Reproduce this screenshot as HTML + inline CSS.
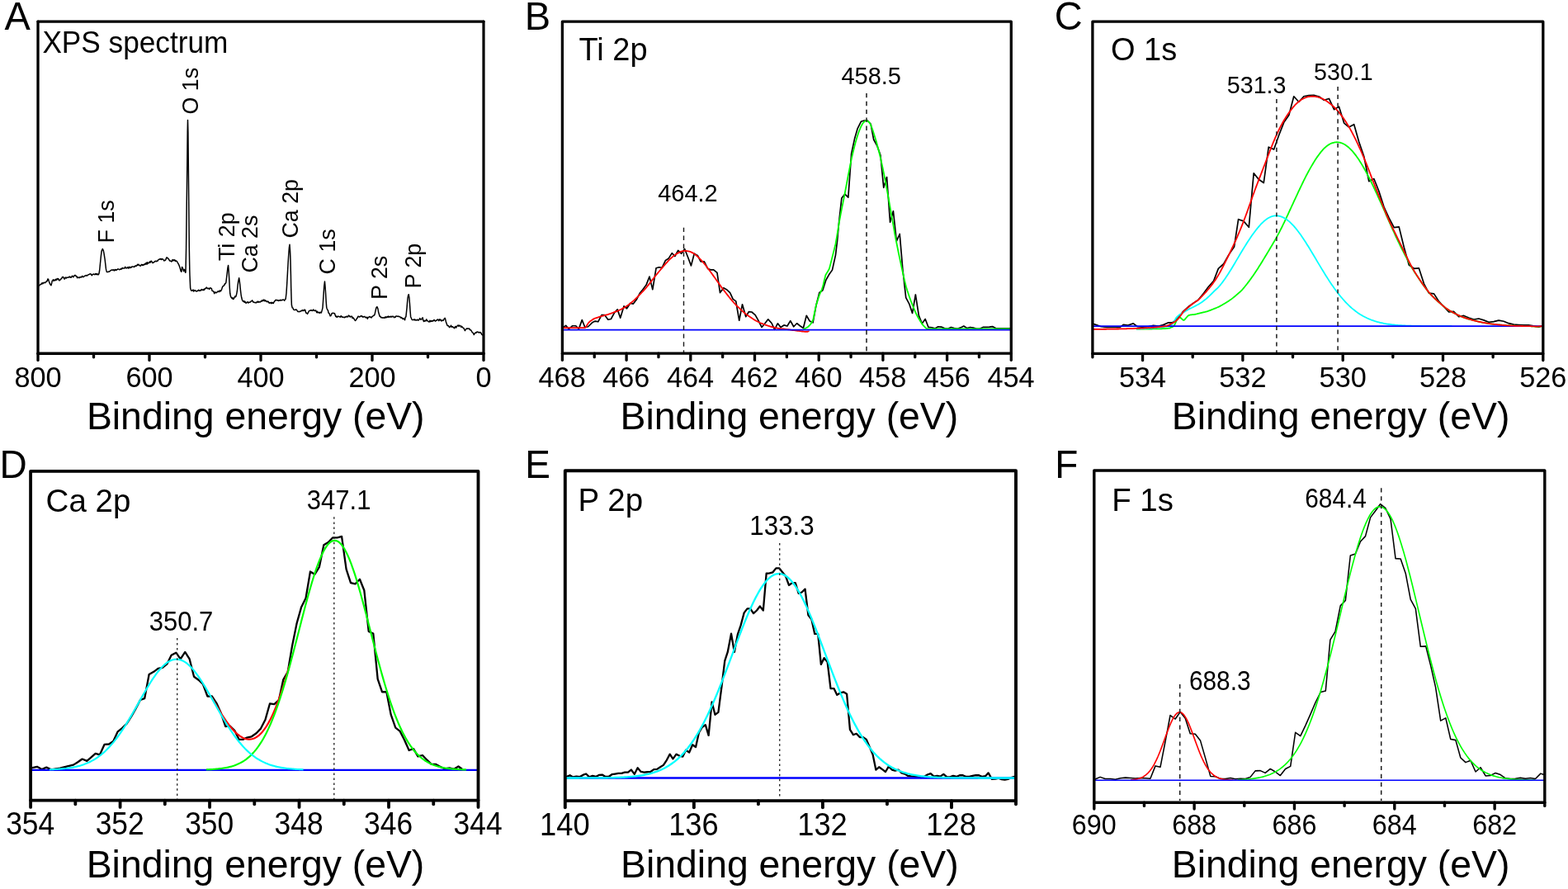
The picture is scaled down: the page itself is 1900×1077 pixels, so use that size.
<!DOCTYPE html>
<html lang="en"><head><meta charset="utf-8"><title>XPS spectra</title>
<style>html,body{margin:0;padding:0;background:#fff;overflow:hidden}svg{display:block}text{font-family:'Liberation Sans', sans-serif;fill:#000}</style>
</head><body>
<svg width="1900" height="1077" viewBox="0 0 1900 1077">
<rect width="1900" height="1077" fill="#fff"/>
<g id="panelA">
<path d="M46.4 347.66 L47.07 345.94 L47.75 345.67 L48.42 345.34 L49.1 344.29 L49.77 344.37 L50.45 344.01 L51.12 342.64 L51.8 343.75 L52.47 343.11 L53.15 342.31 L53.82 342.44 L54.5 342.63 L55.17 341.93 L55.85 341.66 L56.52 340.43 L57.2 340.56 L57.87 337.96 L58.55 338.23 L59.22 340.46 L59.9 342.39 L60.57 344.01 L61.25 344.98 L61.92 345.67 L62.6 343.37 L63.27 340.16 L63.95 339.95 L64.62 338.69 L65.3 340.3 L65.97 339.3 L66.65 338.96 L67.32 339.78 L68 338.12 L68.67 339.13 L69.35 337.48 L70.02 338.02 L70.7 337.62 L71.37 339.4 L72.05 339.88 L72.72 338.98 L73.4 338.88 L74.07 337.58 L74.75 337.25 L75.42 335.78 L76.1 335.41 L76.77 335.67 L77.45 337.19 L78.12 338.09 L78.8 336.69 L79.47 335.94 L80.15 337.13 L80.82 336.21 L81.5 336.13 L82.17 336.22 L82.85 335.97 L83.52 335.77 L84.2 335.05 L84.87 336.02 L85.55 335.59 L86.22 336.16 L86.9 335.16 L87.57 334.18 L88.25 335.04 L88.92 335.78 L89.6 334.36 L90.27 333.81 L90.95 333.37 L91.62 333.74 L92.3 334.7 L92.97 334.71 L93.65 336.66 L94.32 335.87 L95 335.99 L95.67 336.62 L96.35 336.55 L97.02 335.52 L97.7 335.75 L98.37 335.9 L99.05 335.33 L99.72 334.38 L100.4 335.55 L101.07 335.51 L101.75 335.08 L102.42 334.18 L103.1 334.28 L103.77 333.75 L104.45 333.6 L105.12 334.13 L105.8 333.9 L106.47 333.06 L107.15 332.73 L107.82 332.62 L108.5 332.06 L109.17 331.98 L109.85 331.84 L110.52 332.35 L111.2 333.77 L111.87 333 L112.55 332.34 L113.22 332.27 L113.9 332.05 L114.57 332.63 L115.25 332.54 L115.92 331.43 L116.6 332.39 L117.27 331.73 L117.95 332.76 L118.62 332 L119.3 332.79 L119.97 331.42 L120.65 327.5 L121.32 320.75 L121.71 316.89 L122.42 309.79 L123.13 304.11 L124.27 301.55 L125.26 303.39 L125.97 306.95 L127.11 314.05 L127.82 320.45 L128.39 325.42 L128.75 327.4 L129.42 329.55 L130.1 329.41 L130.77 329.61 L131.45 329.18 L132.12 328.84 L132.8 328.91 L133.47 328.26 L134.15 327.5 L134.82 327.37 L135.5 327.01 L136.17 327.34 L136.85 326.91 L137.52 326.76 L138.2 327.98 L138.87 327 L139.55 326.45 L140.22 327.5 L140.9 326.66 L141.57 327.09 L142.25 326.29 L142.92 326 L143.6 326 L144.27 326.47 L144.95 326.67 L145.62 326.2 L146.3 326.23 L146.97 325.27 L147.65 325.85 L148.32 324.52 L149 325 L149.67 325.08 L150.35 324.9 L151.02 324.96 L151.7 323.23 L152.37 324.57 L153.05 324.88 L153.72 324.82 L154.4 323.7 L155.07 324.37 L155.75 325.1 L156.42 323.19 L157.1 324.2 L157.77 324.49 L158.45 323.42 L159.12 324.06 L159.8 323.06 L160.47 323.1 L161.15 323 L161.82 323.45 L162.5 323.09 L163.17 323.33 L163.85 321.95 L164.52 322.06 L165.2 322.32 L165.87 321.77 L166.55 320.39 L167.22 321.15 L167.9 320.19 L168.57 321.14 L169.25 321.56 L169.92 322.3 L170.6 321.89 L171.27 320.61 L171.95 320.57 L172.62 321.42 L173.3 320.57 L173.97 321.1 L174.65 320.42 L175.32 319.65 L176 320.46 L176.67 319.19 L177.35 318.24 L178.02 320.23 L178.7 317.77 L179.37 318.91 L180.05 318.84 L180.72 318.17 L181.4 316.93 L182.07 318.17 L182.75 316.49 L183.42 316.21 L184.1 317.27 L184.77 318.58 L185.45 318.23 L186.12 318.17 L186.8 317.15 L187.47 316.96 L188.15 316.18 L188.82 316.46 L189.5 316.79 L190.17 316.13 L190.85 316.26 L191.52 315.09 L192.2 314.5 L192.87 314.31 L193.55 313.86 L194.22 313.98 L194.9 313.44 L195.57 314.5 L196.25 313.63 L196.92 314.07 L197.6 314.1 L198.27 315.15 L198.95 315.99 L199.62 315.26 L200.3 315.5 L200.97 314.28 L201.65 312.2 L202.32 311.8 L203 312.96 L203.67 312.94 L204.35 313.78 L205.02 314.97 L205.7 315.97 L206.37 316.05 L207.05 316.29 L207.72 317.01 L208.4 316.11 L209.07 314.46 L209.75 315.85 L210.42 314.82 L211.1 315.46 L211.77 314.74 L212.45 316.43 L213.12 315.74 L213.8 316.56 L214.47 316.52 L215.15 318.05 L215.82 319.03 L216.5 320.29 L217.17 321.91 L217.85 323.87 L218.52 326.15 L219.2 328.45 L219.87 329.28 L220.55 323.43 L221.22 324.16 L221.9 326.25 L222.57 328.62 L223.25 326.56 L223.92 327.23 L224.6 330.16 L225 330 L225.6 300 L226.2 250 L226.8 200 L227.2 160 L227.5 145.5 L227.9 160 L228.3 200 L228.8 250 L229.3 300 L229.8 327 L230 333.66 L230.67 349.07 L231.35 351.35 L232.02 352.28 L232.7 351.66 L233.37 351.93 L234.05 351.03 L234.72 352.93 L235.4 352.29 L236.07 351.62 L236.75 352 L237.42 352.7 L238.1 353.07 L238.77 352.42 L239.45 352.58 L240.12 351.58 L240.8 351.31 L241.47 352.4 L242.15 352.02 L242.82 351.53 L243.5 352.04 L244.17 350.61 L244.85 350.71 L245.52 351.34 L246.2 351.62 L246.87 350.44 L247.55 351.18 L248.22 349.58 L248.9 349.76 L249.57 349.14 L250.25 348.03 L250.92 349.16 L251.6 349.7 L252.27 349.28 L252.95 349.49 L253.62 350.35 L254.3 348.89 L254.97 348.76 L255.65 349.22 L256.32 349.51 L257 352.12 L257.67 352.61 L258.35 352.78 L259.02 353.55 L259.7 355.63 L260.37 353.89 L261.05 353.97 L261.72 354.7 L262.4 354.57 L263.07 354.03 L263.75 353.09 L264.42 352.8 L265.1 353.63 L265.77 353.14 L266.45 351.88 L267.12 352.95 L267.8 352.22 L268.47 351.12 L269.15 348.84 L269.82 347.03 L270.5 346.86 L271.17 346.09 L271.85 345.37 L272.52 343.63 L273.2 343.81 L273.87 342.25 L275.18 331.11 L275.89 324.71 L276.61 321.44 L277.03 326.84 L277.6 335.37 L278.17 346.74 L278.74 355.26 L279.45 358.82 L279.95 360.05 L280.62 360.89 L281.3 361.72 L281.97 360.54 L282.65 362.4 L283.32 361.91 L284 360.44 L284.67 358.97 L285.35 359.78 L286.02 358.79 L286.7 356.09 L287.37 352.72 L287.97 346.74 L288.68 341.05 L289.68 336.79 L290.25 340.34 L290.82 345.32 L291.53 352.42 L292.1 357.01 L292.77 360.8 L293.45 363.17 L294.12 364.74 L294.8 364.99 L295.47 364.51 L296.15 366.32 L296.82 365.25 L297.5 366.33 L298.17 367.36 L298.85 366.46 L299.52 365.91 L300.2 365.79 L300.87 367.06 L301.55 366.22 L302.22 366.34 L302.9 366.29 L303.57 365.48 L304.25 365.07 L304.92 364.87 L305.6 363.9 L306.27 364.96 L306.95 365.96 L307.62 366.06 L308.3 366.51 L308.97 366.36 L309.65 366.65 L310.32 366.97 L311 365.86 L311.67 366 L312.35 365.08 L313.02 366.31 L313.7 365.6 L314.37 365.66 L315.05 366.04 L315.72 365.6 L316.4 364.78 L317.07 365.05 L317.75 363.64 L318.42 364.48 L319.1 364.12 L319.77 362.96 L320.45 364.67 L321.12 363.78 L321.8 364.77 L322.47 364.38 L323.15 365.39 L323.82 365.79 L324.5 365.04 L325.17 365.46 L325.85 366.81 L326.52 367.21 L327.2 366.48 L327.87 366.7 L328.55 367.67 L329.22 366.24 L329.9 367.27 L330.57 366.74 L331.25 367.53 L331.92 366.1 L332.6 364.88 L333.27 364.53 L333.95 363.24 L334.62 363.84 L335.3 363.56 L335.97 363.82 L336.65 363.64 L337.32 364.44 L338 363.79 L338.67 364.06 L339.35 363.97 L340.02 363.19 L340.7 363.88 L341.37 363.69 L342.05 363.57 L342.72 363.07 L343.4 362.96 L344.07 363.52 L344.75 364.28 L345.42 362.62 L346.1 362.33 L346.77 357.03 L347 355.26 L347.71 343.89 L348.42 331.11 L349.13 318.32 L349.84 306.95 L350.41 299.84 L350.98 296.29 L351.55 304.11 L351.97 315.47 L352.4 332.53 L352.68 348.16 L353.11 362.37 L353.39 369.47 L354.2 372.85 L354.87 372.93 L355.55 374.67 L356.22 375.38 L356.9 375.5 L357.57 375.48 L358.25 375.09 L358.92 375.07 L359.6 375.65 L360.27 376.72 L360.95 377.53 L361.62 377.4 L362.3 377.69 L362.97 377.28 L363.65 377.49 L364.32 377.03 L365 376.39 L365.67 376.62 L366.35 375.64 L367.02 376.51 L367.7 376.52 L368.37 375.22 L369.05 376.1 L369.72 375.32 L370.4 378.12 L371.07 379.35 L371.75 379.21 L372.42 380.37 L373.1 379.44 L373.77 378.02 L374.45 376.77 L375.12 376.39 L375.8 376.11 L376.47 376.19 L377.15 375.65 L377.82 376.37 L378.5 376.46 L379.17 375.6 L379.85 375.08 L380.52 376.27 L381.2 376.54 L381.87 376.16 L382.55 375.9 L383.22 377.42 L383.9 378.79 L384.57 377.23 L385.25 378.81 L385.92 378.6 L386.6 378.46 L387.27 379.36 L387.95 378.18 L388.62 378.7 L389.3 378.9 L389.97 376.86 L390.65 374.33 L391.05 372.32 L391.62 363.79 L392.19 355.26 L392.76 346.74 L393.47 341.05 L394.04 346.74 L394.61 355.26 L395.17 365.21 L395.74 372.32 L396.05 373.55 L396.72 375.36 L397.4 375.81 L398.07 379.07 L398.75 379.42 L399.42 380.81 L400.1 382.76 L400.77 382.73 L401.45 381.36 L402.12 379.52 L402.8 379.49 L403.47 379.29 L404.15 379.49 L404.82 379.47 L405.5 379.69 L406.17 381.67 L406.85 383.58 L407.52 383.03 L408.2 384.43 L408.87 383.71 L409.55 383.12 L410.22 383.51 L410.9 383.41 L411.57 383.61 L412.25 384.2 L412.92 382.97 L413.6 382.84 L414.27 384.16 L414.95 383.97 L415.62 384.24 L416.3 384.46 L416.97 384.19 L417.65 384.79 L418.32 383.84 L419 384.19 L419.67 383.53 L420.35 383.2 L421.02 383.98 L421.7 383.73 L422.37 382.12 L423.05 382.36 L423.72 383.37 L424.4 384.02 L425.07 383.29 L425.75 383.73 L426.42 383.22 L427.1 385.55 L427.77 384.6 L428.45 385.56 L429.12 386.44 L429.8 387.61 L430.47 388.44 L431.15 387.86 L431.82 387.1 L432.5 385.5 L433.17 385.16 L433.85 383.25 L434.52 383.26 L435.2 383.82 L435.87 384.06 L436.55 383.34 L437.22 382.8 L437.9 383.06 L438.57 382.78 L439.25 384.03 L439.92 383.61 L440.6 383.98 L441.27 383.62 L441.95 383.31 L442.62 384.43 L443.3 384.87 L443.97 384.45 L444.65 384.28 L445.32 386.35 L446 384.53 L446.67 384.4 L447.35 383.64 L448.02 383.54 L448.7 384.4 L449.37 384.14 L450.05 384.87 L450.72 383.53 L451.4 383.53 L452.07 382.72 L452.75 382.15 L453.42 382.03 L454.1 380.89 L455 376.58 L455.85 373.03 L456.85 371.61 L457.84 373.74 L458.55 378 L460.17 383.26 L460.85 383.3 L461.52 384.7 L462.2 384.57 L462.87 384.75 L463.55 385.17 L464.22 384.92 L464.9 384.78 L465.57 385.13 L466.25 385.07 L466.92 383.76 L467.6 384.73 L468.27 384.64 L468.95 383.69 L469.62 384.15 L470.3 383.04 L470.97 384.44 L471.65 383.45 L472.32 383.47 L473 384.11 L473.67 383.38 L474.35 383.96 L475.02 383.24 L475.7 383.66 L476.37 383.25 L477.05 383.95 L477.72 384.68 L478.4 384.07 L479.07 384.26 L479.75 383.04 L480.42 382.95 L481.1 383.04 L481.77 383.48 L482.45 383.22 L483.12 383.16 L483.8 383.82 L484.47 383.71 L485.15 384.11 L485.82 385.18 L486.5 384.47 L487.17 385.24 L487.85 386.36 L488.52 385.87 L489.2 386.54 L489.87 386.15 L490.55 387.84 L491.22 384.18 L491.9 383.8 L492.57 377.41 L493.08 372.32 L493.65 365.21 L494.08 360.95 L494.65 357.82 L495.22 356.68 L495.93 360.95 L496.49 368.05 L497.06 376.58 L497.63 383.68 L498.65 386.07 L499.32 387.41 L500 387.6 L500.67 387.6 L501.35 387.6 L502.02 386.8 L502.7 387.89 L503.37 387.37 L504.05 387.9 L504.72 388.06 L505.4 387.37 L506.07 387.11 L506.75 388.12 L507.42 387.67 L508.1 387.02 L508.77 385.62 L509.45 387 L510.12 387.06 L510.8 387.01 L511.47 385.48 L512.15 384.86 L512.82 387.99 L513.5 389.52 L514.17 388.35 L514.85 388.86 L515.52 388.35 L516.2 388.8 L516.87 386.86 L517.55 388.56 L518.22 388.71 L518.9 389.49 L519.57 389.82 L520.25 390.02 L520.92 388.32 L521.6 389.67 L522.27 389.25 L522.95 388.57 L523.62 389.31 L524.3 388.43 L524.97 388.91 L525.65 387.8 L526.32 387.59 L527 388.67 L527.67 389.12 L528.35 388.21 L529.02 388.28 L529.7 387.46 L530.37 386.94 L531.05 387.61 L531.72 388.63 L532.4 386.85 L533.07 387.67 L533.75 387.04 L534.42 388.32 L535.1 388.91 L535.77 387.92 L536.45 388.04 L537.12 388.41 L537.8 387.05 L538.47 385.89 L539.15 385.37 L539.82 387.18 L540.5 390.32 L541.17 392.05 L541.85 393.88 L542.52 394.63 L543.2 394.5 L543.87 395.25 L544.55 396.61 L545.22 395.9 L545.9 395.6 L546.57 394.19 L547.25 396.14 L547.92 395.84 L548.6 395.75 L549.27 396.68 L549.95 397.03 L550.62 397.73 L551.3 396.14 L551.97 395.39 L552.65 397.07 L553.32 395.69 L554 395.07 L554.67 394.22 L555.35 394.08 L556.02 395.29 L556.7 394.24 L557.37 394.46 L558.05 394.84 L558.72 396.27 L559.4 395.25 L560.07 396.09 L560.75 396.65 L561.42 397.48 L562.1 397.69 L562.77 399.31 L563.45 400.61 L564.12 399.68 L564.8 398.68 L565.47 397.96 L566.15 398.46 L566.82 397.93 L567.5 398 L568.17 398.51 L568.85 398.14 L569.52 399.76 L570.2 399.82 L570.87 400.08 L571.55 401.28 L572.22 402.7 L572.9 403.19 L573.57 403.54 L574.25 405.49 L574.92 404.39 L575.6 403.78 L576.27 402.87 L576.95 403.28 L577.62 402.25 L578.3 402.09 L578.97 402.46 L579.65 402.35 L580.32 403 L581 402.76 L581.67 402.53 L582.35 402.9 L583.02 403.68 L583.7 405.18 L584.37 405.65 L585.05 406.2" fill="none" stroke="#000" stroke-width="1.5" stroke-linejoin="round" stroke-linecap="butt"/>
<text id="t0" transform="translate(137.5 294.4) rotate(-90) scale(1 1.0630)" font-size="26.8" text-anchor="start">F 1s</text>
<text id="t1" transform="translate(239.8 138.4) rotate(-90) scale(1 1.0630)" font-size="26.8" text-anchor="start">O 1s</text>
<text id="t2" transform="translate(284.1 316) rotate(-90) scale(1 1.0630)" font-size="26.8" text-anchor="start">Ti 2p</text>
<text id="t3" transform="translate(311.8 330.6) rotate(-90) scale(1 1.0630)" font-size="26.8" text-anchor="start">Ca 2s</text>
<text id="t4" transform="translate(361.3 288.5) rotate(-90) scale(1 1.0630)" font-size="26.8" text-anchor="start">Ca 2p</text>
<text id="t5" transform="translate(406.2 332.4) rotate(-90) scale(1 1.0630)" font-size="26.8" text-anchor="start">C 1s</text>
<text id="t6" transform="translate(469 362.9) rotate(-90) scale(1 1.0630)" font-size="26.8" text-anchor="start">P 2s</text>
<text id="t7" transform="translate(509.8 349.4) rotate(-90) scale(1 1.0630)" font-size="26.8" text-anchor="start">P 2p</text>
<line x1="46" y1="26.05" x2="46" y2="428.3" stroke="#000" stroke-width="3.3" stroke-linecap="round"/>
<line x1="46" y1="26.05" x2="586" y2="26.05" stroke="#000" stroke-width="3.3" stroke-linecap="round"/>
<line x1="586" y1="26.05" x2="586" y2="428.3" stroke="#000" stroke-width="3.2" stroke-linecap="round"/>
<line x1="46" y1="428.3" x2="586" y2="428.3" stroke="#000" stroke-width="3.4" stroke-linecap="round"/>
<line x1="46" y1="428.3" x2="46" y2="436.45" stroke="#000" stroke-width="3.3" stroke-linecap="round"/>
<text id="t8" transform="translate(46 469) scale(1 1.0250)" font-size="34.3" text-anchor="middle">800</text>
<line x1="181" y1="428.3" x2="181" y2="436.45" stroke="#000" stroke-width="3.3" stroke-linecap="round"/>
<text id="t9" transform="translate(181 469) scale(1 1.0250)" font-size="34.3" text-anchor="middle">600</text>
<line x1="316" y1="428.3" x2="316" y2="436.45" stroke="#000" stroke-width="3.3" stroke-linecap="round"/>
<text id="t10" transform="translate(316 469) scale(1 1.0250)" font-size="34.3" text-anchor="middle">400</text>
<line x1="451" y1="428.3" x2="451" y2="436.45" stroke="#000" stroke-width="3.3" stroke-linecap="round"/>
<text id="t11" transform="translate(451 469) scale(1 1.0250)" font-size="34.3" text-anchor="middle">200</text>
<line x1="586" y1="428.3" x2="586" y2="436.45" stroke="#000" stroke-width="3.3" stroke-linecap="round"/>
<text id="t12" transform="translate(586 469) scale(1 1.0250)" font-size="34.3" text-anchor="middle">0</text>
<line x1="113.5" y1="428.3" x2="113.5" y2="432.75" stroke="#000" stroke-width="3.3" stroke-linecap="round"/>
<line x1="248.5" y1="428.3" x2="248.5" y2="432.75" stroke="#000" stroke-width="3.3" stroke-linecap="round"/>
<line x1="383.5" y1="428.3" x2="383.5" y2="432.75" stroke="#000" stroke-width="3.3" stroke-linecap="round"/>
<line x1="518.5" y1="428.3" x2="518.5" y2="432.75" stroke="#000" stroke-width="3.3" stroke-linecap="round"/>
<text id="t13" transform="translate(309.7 519.8) scale(1 1.0000)" font-size="46.35" text-anchor="middle">Binding energy (eV)</text>
<text id="t14" transform="translate(5.6 36.1) scale(1 1.0400)" font-size="47" text-anchor="start">A</text>
<text id="t15" transform="translate(51.4 63.5) scale(1 1.0300)" font-size="35.2" text-anchor="start">XPS spectrum</text>
</g>
<g id="panelB">
<path d="M681.39 397.18 L685.66 394.34 L689.21 398.61 L693.47 394.77 L697.74 394.77 L701.29 398.61 L705.27 387.66 L708.82 396.47 L712.66 395.76 L717.63 390.79 L721.18 389.08 L724.74 389.79 L729 381.55 L732.55 381.55 L736.82 387.24 L740.37 386.53 L744.63 378.71 L748.18 374.87 L751.74 385.11 L756 370.89 L759.55 373.74 L763.82 367.34 L767.37 368.05 L771.63 362.37 L775.18 355.26 L778.74 351 L783 345.32 L786.98 335.08 L790.82 350.72 L795.08 324.71 L798.63 323.72 L802.18 324.28 L806.45 315.47 L810 313.34 L814.26 306.66 L817.82 310.5 L821.65 303.39 L825.63 307.23 L829.61 301.55 L833.45 311.21 L837.43 321.87 L841.26 307.23 L845.53 309.79 L849.08 316.89 L853.34 316.89 L857.61 325.42 L861.16 326.84 L864.71 326.84 L868.97 330.39 L872.53 354.55 L876.79 348.87 L880.34 350.72 L884.61 354.55 L888.16 362.37 L891.71 364.93 L895.69 388.23 L899.53 368.76 L903.79 383.68 L907.34 377.72 L910.89 378 L915.16 381.55 L918.71 387.95 L922.97 396.47 L926.53 392.21 L930.79 386.81 L935.05 391.5 L938.61 399.32 L942.16 392.21 L942.56 391.93 L945.97 396.47 L949.95 393.92 L953.93 395.05 L957.76 388.66 L961.74 395.76 L965.58 391.78 L969.42 394.77 L973.39 397.47 L977.23 382.26 L981.21 389.08 L985.05 390.79 L989.03 369.47 L992.86 354.55 L996.84 351.71 L1000.68 339.63 L1004.66 332.53 L1008.49 327.13 L1012.47 309.08 L1014.61 291.32 L1016.74 267.79 L1019.86 240.08 L1023.84 235.11 L1027.82 239.08 L1031.66 186.08 L1035.49 168.32 L1039.19 155.53 L1043.31 147.28 L1047.29 146.01 L1051.13 146.01 L1055.11 150.27 L1058.66 169.03 L1062.92 176.84 L1066.9 187.93 L1070.74 227.29 L1074.57 214.5 L1078.55 269.21 L1082.39 255.71 L1086.37 292.03 L1090.21 283.5 L1093.9 326.84 L1097.74 360.66 L1101.72 368.05 L1105.55 379.42 L1109.39 356.97 L1113.37 382.26 L1117.21 391.93 L1121.18 386.53 L1125.02 396.47 L1129 396.76 L1132.84 397.89 L1136.82 395.76 L1140.65 396.05 L1144.63 397.89 L1148.47 398.32 L1152.45 396.47 L1156.28 397.47 L1160.26 398.32 L1164.1 396.9 L1167.79 395.05 L1171.63 397.47 L1175.61 396.47 L1179.45 397.18 L1183.28 398.32 L1187.26 398.32 L1191.1 396.47 L1195.08 396.47 L1198.92 396.19 L1202.61 395.62 L1206.45 397.47 L1210 397.89 L1224.92 397.89" fill="none" stroke="#000" stroke-width="1.7" stroke-linejoin="round" stroke-linecap="butt"/>
<path d="M681.39 397.18 L682.89 397.18 L684.39 397.18 L685.89 397.18 L687.39 397.18 L688.89 397.18 L690.39 397.18 L691.89 397.18 L693.39 397.18 L694.89 397.18 L696.39 397.18 L697.89 397.18 L699.39 397.18 L700.89 397.18 L702.39 397.18 L703.89 397.18 L705.39 397.18 L706.89 397.18 L708.39 397.18 L709.89 396.45 L711.39 393.68 L712.89 391.37 L714.39 389.81 L715.89 388.65 L717.39 387.62 L718.89 386.65 L720.39 385.85 L721.89 385.27 L723.39 384.78 L724.89 384.35 L726.39 383.89 L727.89 383.43 L729.39 382.98 L730.89 382.54 L732.39 382.1 L733.89 381.68 L735.39 381.26 L736.89 380.82 L738.39 380.33 L739.89 379.81 L741.39 379.28 L742.89 378.74 L744.39 378.2 L745.89 377.63 L747.39 377.04 L748.89 376.42 L750.39 375.78 L751.89 375.08 L753.39 374.33 L754.89 373.51 L756.39 372.65 L757.89 371.74 L759.39 370.77 L760.9 369.74 L762.41 368.61 L763.92 367.42 L765.44 366.2 L766.97 364.92 L768.51 363.56 L770.05 362.11 L771.59 360.61 L773.14 359.06 L774.69 357.48 L776.24 355.88 L777.8 354.25 L779.35 352.61 L780.91 350.95 L782.47 349.2 L784.02 347.3 L785.57 345.34 L787.13 343.37 L788.68 341.39 L790.22 339.4 L791.76 337.41 L793.3 335.45 L794.83 333.5 L796.36 331.6 L797.88 329.76 L799.39 327.97 L800.89 326.18 L802.39 324.36 L803.89 322.58 L805.39 320.87 L806.89 319.21 L808.39 317.55 L809.89 315.91 L811.39 314.37 L812.89 312.96 L814.39 311.63 L815.89 310.36 L817.39 309.16 L818.89 308.13 L820.39 307.22 L821.89 306.39 L823.39 305.61 L824.89 304.93 L826.39 304.43 L827.89 304.08 L829.39 303.86 L830.89 303.86 L832.39 304.08 L833.89 304.29 L835.39 304.59 L836.89 305.16 L838.39 305.86 L839.89 306.66 L841.39 307.6 L842.89 308.72 L844.39 309.96 L845.89 311.32 L847.39 312.78 L848.89 314.33 L850.39 315.96 L851.89 317.67 L853.39 319.45 L854.89 321.31 L856.39 323.26 L857.89 325.21 L859.39 327.18 L860.89 329.19 L862.39 331.28 L863.89 333.39 L865.39 335.49 L866.89 337.59 L868.39 339.69 L869.89 341.79 L871.39 343.89 L872.89 346.01 L874.39 348.11 L875.89 350.14 L877.39 352.12 L878.89 354.07 L880.39 356 L881.89 357.91 L883.39 359.79 L884.89 361.65 L886.39 363.45 L887.89 365.21 L889.39 366.89 L890.89 368.48 L892.39 370.01 L893.89 371.49 L895.39 372.92 L896.89 374.33 L898.39 375.72 L899.89 377.08 L901.39 378.44 L902.89 379.75 L904.39 380.91 L905.89 381.98 L907.39 383.02 L908.89 384.05 L910.39 385.05 L911.89 386.04 L913.39 386.99 L914.89 387.89 L916.39 388.74 L917.89 389.53 L919.39 390.28 L920.89 390.97 L922.39 391.6 L923.89 392.18 L925.39 392.78 L926.89 393.4 L928.39 393.97 L929.89 394.47 L931.39 394.93 L932.89 395.38 L934.39 395.8 L935.89 396.19 L937.39 396.56 L938.89 396.9 L940.39 397.22 L941.89 397.51 L943.39 397.78 L944.89 398.04 L946.39 398.21 L947.88 398.3 L949.36 398.44 L950.82 398.61 L952.28 398.81 L953.72 399.02 L955.16 399.24 L956.59 399.45 L958.02 399.64 L959.45 399.84 L960.88 400.03 L962.3 400.23 L963.73 400.43 L965.16 400.61 L966.59 400.79 L968.04 400.96 L969.49 401.13 L970.95 401.31 L972.42 401.49 L973.9 401.66 L975.39 401.79 L976.89 401.86 L978.39 401.79 L979.89 401.27 L980.5 401.02" fill="none" stroke="#ff0000" stroke-width="1.8" stroke-linejoin="round" stroke-linecap="butt"/>
<path d="M973.39 398.61 L974.89 398.14 L976.39 397.54 L977.89 396.77 L979.39 395.67 L980.89 394.23 L982.39 392.52 L983.89 390.22 L985.39 386.78 L986.89 379.45 L988.39 372.11 L989.89 366.68 L991.39 362.02 L992.89 357.27 L994.39 353.85 L995.89 350.58 L997.39 346.07 L998.89 339.23 L1000.39 333.24 L1001.89 330.64 L1003.39 328.37 L1004.89 325.52 L1006.39 319.88 L1007.89 313.9 L1009.39 307.89 L1010.89 301.97 L1012.39 295.95 L1013.89 287.78 L1015.39 278.51 L1016.89 269.09 L1018.39 261.04 L1019.89 253.39 L1021.39 245.92 L1022.89 238.47 L1024.39 230.79 L1025.89 222.74 L1027.39 214.68 L1028.89 206.95 L1030.39 199.49 L1031.89 191.86 L1033.39 185.25 L1034.89 179.24 L1036.39 173.44 L1037.89 168.26 L1039.39 163.48 L1040.89 159.08 L1042.39 155.48 L1043.89 152.19 L1045.39 149.52 L1046.89 147.84 L1048.39 146.66 L1049.89 146.01 L1051.39 146.72 L1052.89 147.96 L1054.39 149.84 L1055.89 153.25 L1057.39 157.39 L1058.89 161.94 L1060.39 166.73 L1061.89 171.78 L1063.39 177.18 L1064.89 183.03 L1066.39 189.13 L1067.89 195.61 L1069.39 202.51 L1070.89 209.64 L1072.39 217.2 L1073.89 225.15 L1075.39 233.37 L1076.89 241.61 L1078.39 250.09 L1079.89 258.82 L1081.39 266.81 L1082.89 275.16 L1084.39 283.99 L1085.89 291.89 L1087.39 299.3 L1088.89 306.83 L1090.39 313.93 L1091.89 320.91 L1093.39 327.9 L1094.89 334.56 L1096.39 341.15 L1097.89 347.3 L1099.39 352.07 L1100.89 356.49 L1102.39 360.93 L1103.89 365.04 L1105.39 368.8 L1106.89 372.41 L1108.39 376.04 L1109.89 379.51 L1111.39 382.53 L1112.89 385.22 L1114.39 387.77 L1115.89 390.32 L1117.39 392.61 L1118.89 394.44 L1120.39 395.97 L1121.89 397.49 L1123.39 398.33 L1124.89 398.41 L1126.39 398.45 L1127.89 398.46 L1129.39 398.46 L1130.89 398.46 L1132.39 398.46 L1133.89 398.46 L1135.39 398.46 L1136.89 398.46 L1138.39 398.46 L1139.89 398.46 L1141.39 398.46 L1142.89 398.46 L1144.39 398.46 L1145.89 398.46 L1147.39 398.46 L1148.89 398.46 L1150.39 398.46 L1151.89 398.46 L1153.39 398.46 L1154.89 398.46 L1156.39 398.46 L1157.89 398.46 L1159.39 398.46 L1160.89 398.46 L1162.39 398.46 L1163.89 398.46 L1165.39 398.46 L1166.89 398.46 L1168.39 398.46 L1169.89 398.46 L1171.39 398.46 L1172.89 398.46 L1174.39 398.46 L1175.89 398.46 L1177.39 398.46 L1178.89 398.46 L1180.39 398.46 L1181.89 398.46 L1183.39 398.46 L1184.89 398.46 L1186.39 398.46 L1187.89 398.46 L1189.39 398.46 L1190.89 398.46 L1192.39 398.46 L1193.89 398.46 L1195.39 398.46 L1196.89 398.46 L1198.39 398.46 L1199.89 398.46 L1201.39 398.46 L1202.89 398.46 L1204.39 398.46 L1205.89 398.46 L1207.39 398.46 L1208.89 398.46 L1210.39 398.46 L1211.89 398.46 L1213.39 398.46 L1214.89 398.46 L1216.39 398.46 L1217.89 398.46 L1219.39 398.46 L1220.89 398.46 L1222.39 398.46 L1223.89 398.46 L1224.92 398.46" fill="none" stroke="#00ff00" stroke-width="1.8" stroke-linejoin="round" stroke-linecap="butt"/>
<path d="M681.4 399.7 L1225.3 399.7" fill="none" stroke="#0000ff" stroke-width="1.8" stroke-linejoin="round" stroke-linecap="butt"/>
<line x1="828.5" y1="275.7" x2="828.5" y2="427" stroke="#1a1a1a" stroke-width="1.4" stroke-dasharray="5.4 4.5"/>
<line x1="1050" y1="112.9" x2="1050" y2="427" stroke="#1a1a1a" stroke-width="1.5" stroke-dasharray="5.4 4.5"/>
<text id="t16" transform="translate(833.4 243.7) scale(1 1.0000)" font-size="28.9" text-anchor="middle">464.2</text>
<text id="t17" transform="translate(1055.7 101.6) scale(1 1.0100)" font-size="28.9" text-anchor="middle">458.5</text>
<path d="M681.4 26.2 L1225.3 26.2 L1225.3 428.2 L681.4 428.2 Z" fill="none" stroke="#000" stroke-width="3.3" stroke-linejoin="round"/>
<line x1="681.4" y1="428.2" x2="681.4" y2="436.35" stroke="#000" stroke-width="3.3" stroke-linecap="round"/>
<text id="t18" transform="translate(681.1 468.9) scale(1 1.0200)" font-size="34.3" text-anchor="middle">468</text>
<line x1="759.1" y1="428.2" x2="759.1" y2="436.35" stroke="#000" stroke-width="3.3" stroke-linecap="round"/>
<text id="t19" transform="translate(758.8 468.9) scale(1 1.0200)" font-size="34.3" text-anchor="middle">466</text>
<line x1="836.8" y1="428.2" x2="836.8" y2="436.35" stroke="#000" stroke-width="3.3" stroke-linecap="round"/>
<text id="t20" transform="translate(836.5 468.9) scale(1 1.0200)" font-size="34.3" text-anchor="middle">464</text>
<line x1="914.5" y1="428.2" x2="914.5" y2="436.35" stroke="#000" stroke-width="3.3" stroke-linecap="round"/>
<text id="t21" transform="translate(914.2 468.9) scale(1 1.0200)" font-size="34.3" text-anchor="middle">462</text>
<line x1="992.2" y1="428.2" x2="992.2" y2="436.35" stroke="#000" stroke-width="3.3" stroke-linecap="round"/>
<text id="t22" transform="translate(991.9 468.9) scale(1 1.0200)" font-size="34.3" text-anchor="middle">460</text>
<line x1="1069.9" y1="428.2" x2="1069.9" y2="436.35" stroke="#000" stroke-width="3.3" stroke-linecap="round"/>
<text id="t23" transform="translate(1069.6 468.9) scale(1 1.0200)" font-size="34.3" text-anchor="middle">458</text>
<line x1="1147.6" y1="428.2" x2="1147.6" y2="436.35" stroke="#000" stroke-width="3.3" stroke-linecap="round"/>
<text id="t24" transform="translate(1147.3 468.9) scale(1 1.0200)" font-size="34.3" text-anchor="middle">456</text>
<line x1="1225.3" y1="428.2" x2="1225.3" y2="436.35" stroke="#000" stroke-width="3.3" stroke-linecap="round"/>
<text id="t25" transform="translate(1225 468.9) scale(1 1.0200)" font-size="34.3" text-anchor="middle">454</text>
<line x1="720.25" y1="428.2" x2="720.25" y2="432.65" stroke="#000" stroke-width="3.3" stroke-linecap="round"/>
<line x1="797.95" y1="428.2" x2="797.95" y2="432.65" stroke="#000" stroke-width="3.3" stroke-linecap="round"/>
<line x1="875.65" y1="428.2" x2="875.65" y2="432.65" stroke="#000" stroke-width="3.3" stroke-linecap="round"/>
<line x1="953.35" y1="428.2" x2="953.35" y2="432.65" stroke="#000" stroke-width="3.3" stroke-linecap="round"/>
<line x1="1031.05" y1="428.2" x2="1031.05" y2="432.65" stroke="#000" stroke-width="3.3" stroke-linecap="round"/>
<line x1="1108.75" y1="428.2" x2="1108.75" y2="432.65" stroke="#000" stroke-width="3.3" stroke-linecap="round"/>
<line x1="1186.45" y1="428.2" x2="1186.45" y2="432.65" stroke="#000" stroke-width="3.3" stroke-linecap="round"/>
<text id="t26" transform="translate(956.4 519.7) scale(1 1.0000)" font-size="46.35" text-anchor="middle">Binding energy (eV)</text>
<text id="t27" transform="translate(635.8 36) scale(1 1.0400)" font-size="47" text-anchor="start">B</text>
<text id="t28" transform="translate(701.5 72.6) scale(1 1.0300)" font-size="38" text-anchor="start">Ti 2p</text>
</g>
<g id="panelC">
<path d="M1324.26 392.21 L1328.53 393.63 L1334.21 395.76 L1341.32 396.47 L1348.42 396.47 L1356.95 396.47 L1361.21 393.35 L1366.89 394.06 L1373.29 391.93 L1378.26 395.76 L1383.95 396.19 L1391.05 395.76 L1397.45 394.34 L1403.84 395.05 L1409.53 393.63 L1415.92 390.79 L1420.89 390.79 L1426.58 386.53 L1433.68 377.29 L1440.79 370.89 L1445.05 368.05 L1452.16 363.08 L1458.55 355.26 L1464.24 347.45 L1470.63 340.34 L1476.32 325.42 L1482.71 319.74 L1489.11 308.37 L1495.5 299.13 L1500.6 265.7 L1506.9 267.9 L1513.3 275.3 L1519.19 209.85 L1525.16 217.24 L1531.27 221.5 L1537.24 178.16 L1543.63 181 L1549.6 163.95 L1555.71 148.32 L1561.82 139.51 L1567.79 116.77 L1573.9 123.45 L1579.87 116.77 L1585.98 115.63 L1591.95 115.35 L1598.34 117.05 L1604.31 121.32 L1610.42 119.47 L1616.53 132.68 L1622.5 129.13 L1628.61 149.03 L1634.58 154 L1640.69 150.73 L1646.66 171.76 L1652.77 189.53 L1658.74 219.65 L1664.85 216.53 L1670.82 231.45 L1676.93 250.63 L1683.13 264.21 L1689.24 275.58 L1695.21 274.87 L1701.32 299.74 L1707.29 321.05 L1713.4 325.32 L1719.37 324.89 L1725.48 343.79 L1731.45 355.16 L1737.56 355.87 L1743.53 365.11 L1749.64 371.5 L1755.61 377.89 L1761.72 377.47 L1767.68 383.58 L1773.79 382.44 L1779.76 385 L1785.87 387.13 L1791.84 385.99 L1797.95 387.84 L1803.92 390.26 L1810.03 389.69 L1816 388.13 L1822.11 389.26 L1828.08 391.68 L1834.19 393.1 L1840.16 393.53 L1846.27 393.95 L1852.24 393.95 L1858.35 394.95 L1864.32 396.08 L1868.58 394.95" fill="none" stroke="#000" stroke-width="1.7" stroke-linejoin="round" stroke-linecap="butt"/>
<path d="M1376.8 398.61 L1377.8 398.6 L1378.8 398.6 L1379.8 398.6 L1380.8 398.6 L1381.8 398.6 L1382.8 398.59 L1383.8 398.59 L1384.8 398.58 L1385.8 398.58 L1386.8 398.57 L1387.8 398.56 L1388.8 398.55 L1389.8 398.54 L1390.8 398.53 L1391.8 398.52 L1392.8 398.51 L1393.8 398.5 L1394.8 398.49 L1395.8 398.48 L1396.8 398.46 L1397.8 398.45 L1398.8 398.43 L1399.8 398.42 L1400.8 398.4 L1401.8 398.38 L1402.8 398.37 L1403.8 398.35 L1404.8 398.33 L1405.8 398.31 L1406.8 398.29 L1407.8 398.26 L1408.8 398.22 L1409.8 398.18 L1410.8 398.13 L1411.8 398.07 L1412.8 397.99 L1413.8 397.91 L1414.8 397.82 L1415.8 397.71 L1416.8 397.58 L1417.8 397.27 L1418.8 396.79 L1419.8 396.34 L1420.8 395.93 L1421.8 395.42 L1422.8 394.47 L1423.8 392.48 L1424.8 390.29 L1425.8 388.06 L1426.8 386.74 L1427.8 385.73 L1428.8 384.68 L1429.8 384.47 L1430.8 385.17 L1431.8 386.15 L1432.8 386.96 L1433.8 387.76 L1434.8 387.84 L1435.8 386.89 L1436.8 385.59 L1437.8 384.51 L1438.8 383.35 L1439.8 382.37 L1440.8 381.89 L1441.81 381.65 L1442.81 381.48 L1443.83 381.34 L1444.84 381.21 L1445.86 381.09 L1446.88 380.99 L1447.9 380.86 L1448.92 380.68 L1449.95 380.48 L1450.98 380.24 L1452.01 379.98 L1453.03 379.72 L1454.06 379.45 L1455.09 379.19 L1456.12 378.94 L1457.15 378.7 L1458.18 378.45 L1459.21 378.2 L1460.24 377.95 L1461.27 377.67 L1462.29 377.38 L1463.31 377.07 L1464.33 376.72 L1465.35 376.35 L1466.37 375.96 L1467.38 375.56 L1468.39 375.16 L1469.4 374.75 L1470.4 374.35 L1471.4 373.96 L1472.4 373.56 L1473.4 373.15 L1474.4 372.74 L1475.4 372.3 L1476.4 371.85 L1477.4 371.37 L1478.4 370.86 L1479.4 370.32 L1480.4 369.76 L1481.4 369.18 L1482.4 368.59 L1483.4 368 L1484.4 367.4 L1485.4 366.8 L1486.4 366.19 L1487.4 365.56 L1488.4 364.92 L1489.4 364.27 L1490.4 363.59 L1491.4 362.88 L1492.4 362.15 L1493.4 361.38 L1494.4 360.58 L1495.4 359.77 L1496.4 358.94 L1497.4 358.1 L1498.4 357.25 L1499.4 356.41 L1500.4 355.56 L1501.4 354.69 L1502.4 353.79 L1503.4 352.83 L1504.4 351.83 L1505.4 350.77 L1506.4 349.65 L1507.4 348.46 L1508.4 347.24 L1509.4 346 L1510.4 344.73 L1511.4 343.45 L1512.4 342.16 L1513.4 340.84 L1514.4 339.5 L1515.4 338.12 L1516.4 336.73 L1517.4 335.33 L1518.4 333.9 L1519.4 332.45 L1520.4 330.98 L1521.4 329.5 L1522.4 327.99 L1523.4 326.46 L1524.4 324.91 L1525.4 323.34 L1526.4 321.75 L1527.4 320.15 L1528.4 318.54 L1529.4 316.91 L1530.4 315.28 L1531.4 313.64 L1532.4 311.99 L1533.4 310.34 L1534.4 308.68 L1535.4 307.01 L1536.4 305.34 L1537.4 303.67 L1538.4 301.99 L1539.4 300.31 L1540.4 298.63 L1541.4 296.94 L1542.4 295.25 L1543.4 293.55 L1544.4 291.83 L1545.4 290.1 L1546.4 288.33 L1547.4 286.53 L1548.4 284.68 L1549.4 282.8 L1550.4 280.89 L1551.4 278.96 L1552.4 276.99 L1553.4 274.99 L1554.4 272.97 L1555.4 270.92 L1556.4 268.84 L1557.4 266.73 L1558.4 264.59 L1559.4 262.43 L1560.4 260.26 L1561.4 258.08 L1562.4 255.91 L1563.4 253.75 L1564.4 251.6 L1565.4 249.44 L1566.4 247.29 L1567.4 245.13 L1568.4 242.97 L1569.4 240.81 L1570.4 238.66 L1571.4 236.51 L1572.4 234.36 L1573.4 232.23 L1574.4 230.1 L1575.4 227.99 L1576.4 225.89 L1577.4 223.81 L1578.4 221.75 L1579.4 219.7 L1580.4 217.68 L1581.4 215.68 L1582.4 213.7 L1583.4 211.76 L1584.4 209.85 L1585.4 207.97 L1586.4 206.13 L1587.4 204.33 L1588.4 202.57 L1589.4 200.85 L1590.4 199.17 L1591.4 197.51 L1592.39 195.89 L1593.39 194.32 L1594.37 192.79 L1595.36 191.31 L1596.34 189.88 L1597.32 188.49 L1598.3 187.16 L1599.28 185.87 L1600.25 184.63 L1601.22 183.44 L1602.19 182.3 L1603.17 181.22 L1604.14 180.19 L1605.11 179.22 L1606.08 178.33 L1607.05 177.5 L1608.02 176.74 L1608.99 176.03 L1609.96 175.38 L1610.93 174.79 L1611.91 174.26 L1612.89 173.79 L1613.87 173.39 L1614.85 173.04 L1615.83 172.76 L1616.82 172.54 L1617.81 172.38 L1618.8 172.28 L1619.8 172.25 L1620.8 172.28 L1621.8 172.37 L1622.8 172.52 L1623.8 172.74 L1624.8 173.02 L1625.8 173.36 L1626.8 173.76 L1627.8 174.22 L1628.8 174.75 L1629.8 175.33 L1630.8 175.97 L1631.8 176.68 L1632.8 177.44 L1633.8 178.26 L1634.8 179.14 L1635.8 180.07 L1636.8 181.06 L1637.8 182.11 L1638.8 183.21 L1639.8 184.36 L1640.8 185.57 L1641.8 186.83 L1642.8 188.14 L1643.8 189.49 L1644.8 190.9 L1645.8 192.35 L1646.8 193.85 L1647.8 195.4 L1648.8 196.98 L1649.8 198.62 L1650.8 200.29 L1651.8 202 L1652.8 203.75 L1653.8 205.54 L1654.8 207.36 L1655.8 209.22 L1656.8 211.11 L1657.8 213.04 L1658.8 214.99 L1659.8 216.97 L1660.8 218.98 L1661.8 221.02 L1662.8 223.08 L1663.8 225.17 L1664.8 227.27 L1665.8 229.4 L1666.8 231.55 L1667.8 233.71 L1668.8 235.89 L1669.8 238.09 L1670.8 240.29 L1671.8 242.51 L1672.8 244.74 L1673.8 246.98 L1674.8 249.23 L1675.8 251.48 L1676.8 253.74 L1677.8 256 L1678.8 258.26 L1679.8 260.53 L1680.8 262.79 L1681.8 265.05 L1682.8 267.31 L1683.8 269.57 L1684.8 271.82 L1685.8 274.06 L1686.8 276.3 L1687.8 278.53 L1688.8 280.75 L1689.8 282.95 L1690.8 285.15 L1691.8 287.32 L1692.8 289.46 L1693.8 291.58 L1694.8 293.66 L1695.8 295.71 L1696.8 297.74 L1697.8 299.75 L1698.8 301.74 L1699.8 303.71 L1700.8 305.66 L1701.8 307.59 L1702.8 309.5 L1703.8 311.4 L1704.8 313.27 L1705.8 315.12 L1706.8 316.96 L1707.8 318.81 L1708.8 320.69 L1709.8 322.56 L1710.8 324.36 L1711.8 326.04 L1712.8 327.65 L1713.8 329.2 L1714.8 330.75 L1715.8 332.27 L1716.8 333.78 L1717.8 335.27 L1718.8 336.75 L1719.8 338.23 L1720.8 339.7 L1721.8 341.17 L1722.8 342.65 L1723.8 344.12 L1724.8 345.57 L1725.8 346.95 L1726.8 348.27 L1727.8 349.57 L1728.8 350.86 L1729.8 352.19 L1730.8 353.49 L1731.8 354.74 L1732.8 355.88 L1733.8 356.93 L1734.8 357.95 L1735.8 358.94 L1736.8 359.92 L1737.8 360.88 L1738.8 361.83 L1739.8 362.77 L1740.8 363.69 L1741.8 364.61 L1742.8 365.52 L1743.8 366.41 L1744.8 367.3 L1745.8 368.17 L1746.8 369.03 L1747.8 369.88 L1748.8 370.73 L1749.8 371.55 L1750.8 372.34 L1751.8 373.12 L1752.8 373.86 L1753.8 374.57 L1754.8 375.23 L1755.8 375.87 L1756.8 376.48 L1757.8 377.07 L1758.8 377.63 L1759.8 378.18 L1760.8 378.72 L1761.8 379.26 L1762.8 379.78 L1763.8 380.29 L1764.8 380.78 L1765.8 381.27 L1766.8 381.75 L1767.8 382.21 L1768.8 382.67 L1769.8 383.12 L1770.8 383.54 L1771.8 383.94 L1772.8 384.31 L1773.8 384.66 L1774.8 385 L1775.8 385.34 L1776.8 385.66 L1777.8 385.97 L1778.8 386.27 L1779.8 386.55 L1780.8 386.83 L1781.8 387.11 L1782.8 387.39 L1783.8 387.68 L1784.8 387.95 L1785.8 388.22 L1786.8 388.46 L1787.8 388.7 L1788.8 388.93 L1789.8 389.17 L1790.8 389.41 L1791.8 389.65 L1792.8 389.89 L1793.8 390.14 L1794.8 390.4 L1795.8 390.62 L1796.8 390.81 L1797.8 390.97 L1798.8 391.12 L1799.8 391.28 L1800.8 391.44 L1801.8 391.6 L1802.8 391.76 L1803.8 391.92 L1804.8 392.08 L1805.8 392.25 L1806.8 392.39 L1807.8 392.52 L1808.8 392.65 L1809.8 392.76 L1810.8 392.87 L1811.8 392.98 L1812.8 393.08 L1813.8 393.18 L1814.8 393.28 L1815.8 393.37 L1816.8 393.47 L1817.8 393.56 L1818.8 393.66 L1819.8 393.75 L1820.8 393.85 L1821.8 393.94 L1822.8 394.04 L1823.8 394.12 L1824.8 394.2 L1825.8 394.28 L1826.8 394.35 L1827.8 394.4 L1828.8 394.46 L1829.8 394.51 L1830.8 394.56 L1831.8 394.6 L1832.8 394.65 L1833.8 394.69 L1834.8 394.73 L1835.8 394.77 L1836.8 394.8 L1837.8 394.83 L1838.8 394.87 L1839.8 394.9 L1840.8 394.93 L1841.8 394.95 L1842.8 394.98 L1843.8 395 L1844.8 395.02 L1845.8 395.04 L1846.8 395.05 L1847.8 395.07 L1848.8 395.08 L1849.8 395.1 L1850.8 395.11 L1851.8 395.13 L1852.8 395.15 L1853.8 395.18 L1854.8 395.2 L1855.8 395.23 L1856.8 395.28 L1857.8 395.35 L1858.8 395.43 L1859.8 395.51 L1860.8 395.58 L1861.8 395.64 L1862.8 395.66 L1863.8 395.63 L1864.8 395.56 L1865.8 395.44 L1866.8 395.29 L1867.8 395.1" fill="none" stroke="#00ff00" stroke-width="1.8" stroke-linejoin="round" stroke-linecap="butt"/>
<path d="M1376.8 398.32 L1378.3 398.31 L1379.8 398.29 L1381.3 398.25 L1382.8 398.21 L1384.3 398.15 L1385.8 398.08 L1387.3 398.01 L1388.8 397.93 L1390.3 397.84 L1391.8 397.75 L1393.3 397.66 L1394.8 397.56 L1396.3 397.45 L1397.8 397.35 L1399.3 397.24 L1400.8 397.12 L1402.3 396.98 L1403.8 396.83 L1405.3 396.66 L1406.8 396.47 L1408.3 396.27 L1409.8 396.04 L1411.3 395.8 L1412.8 395.55 L1414.3 395.27 L1415.8 394.95 L1417.3 394.52 L1418.8 393.95 L1420.3 392.94 L1421.8 390.85 L1423.3 388.37 L1424.8 385.61 L1426.3 383.8 L1427.8 382.43 L1429.3 381.28 L1430.8 380.3 L1432.3 379.46 L1433.8 378.64 L1435.3 377.75 L1436.8 376.84 L1438.3 375.93 L1439.8 375.01 L1441.3 374.18 L1442.82 373.47 L1444.35 372.76 L1445.89 372 L1447.43 371.21 L1448.99 370.4 L1450.55 369.57 L1452.11 368.69 L1453.67 367.76 L1455.24 366.77 L1456.81 365.69 L1458.37 364.53 L1459.94 363.33 L1461.5 362.09 L1463.05 360.77 L1464.6 359.37 L1466.14 357.89 L1467.67 356.36 L1469.19 354.78 L1470.7 353.26 L1472.2 351.86 L1473.7 350.47 L1475.2 349.03 L1476.7 347.52 L1478.2 345.84 L1479.7 344.01 L1481.2 342.09 L1482.7 340.07 L1484.2 337.97 L1485.7 335.81 L1487.2 333.56 L1488.7 331.23 L1490.2 328.84 L1491.7 326.41 L1493.2 323.95 L1494.7 321.46 L1496.2 318.94 L1497.7 316.41 L1499.2 313.87 L1500.7 311.34 L1502.2 308.82 L1503.7 306.31 L1505.2 303.82 L1506.7 301.34 L1508.2 298.9 L1509.7 296.48 L1511.2 294.1 L1512.7 291.77 L1514.2 289.48 L1515.7 287.25 L1517.2 285.08 L1518.7 282.97 L1520.2 280.94 L1521.7 278.98 L1523.18 277.1 L1524.66 275.3 L1526.13 273.6 L1527.58 271.99 L1529.03 270.48 L1530.47 269.08 L1531.91 267.78 L1533.35 266.6 L1534.78 265.53 L1536.21 264.57 L1537.65 263.74 L1539.08 263.03 L1540.52 262.44 L1541.96 261.99 L1543.41 261.65 L1544.87 261.45 L1546.34 261.38 L1547.81 261.44 L1549.3 261.62 L1550.8 261.94 L1552.3 262.38 L1553.8 262.95 L1555.3 263.65 L1556.8 264.47 L1558.3 265.41 L1559.8 266.46 L1561.3 267.63 L1562.8 268.92 L1564.3 270.31 L1565.8 271.81 L1567.3 273.4 L1568.8 275.09 L1570.3 276.88 L1571.8 278.75 L1573.3 280.7 L1574.8 282.73 L1576.3 284.82 L1577.8 286.99 L1579.3 289.21 L1580.8 291.49 L1582.3 293.82 L1583.8 296.19 L1585.3 298.6 L1586.8 301.05 L1588.3 303.52 L1589.8 306.01 L1591.3 308.52 L1592.8 311.04 L1594.3 313.56 L1595.8 316.09 L1597.3 318.61 L1598.8 321.12 L1600.3 323.62 L1601.8 326.11 L1603.3 328.57 L1604.8 331 L1606.3 333.41 L1607.8 335.78 L1609.3 338.12 L1610.8 340.42 L1612.3 342.68 L1613.8 344.89 L1615.3 347.06 L1616.8 349.18 L1618.3 351.25 L1619.8 353.26 L1621.3 355.22 L1622.8 357.13 L1624.3 358.98 L1625.8 360.77 L1627.3 362.51 L1628.8 364.19 L1630.3 365.81 L1631.8 367.38 L1633.3 368.88 L1634.8 370.33 L1636.3 371.72 L1637.8 373.06 L1639.3 374.34 L1640.8 375.56 L1642.3 376.73 L1643.8 377.85 L1645.3 378.92 L1646.8 379.93 L1648.3 380.9 L1649.8 381.81 L1651.3 382.69 L1652.8 383.51 L1654.3 384.29 L1655.8 385.03 L1657.3 385.73 L1658.8 386.39 L1660.3 387.01 L1661.8 387.6 L1663.3 388.14 L1664.8 388.66 L1666.3 389.15 L1667.8 389.6 L1669.3 390.02 L1670.8 390.42 L1672.3 390.79 L1673.8 391.14 L1675.3 391.46 L1676.8 391.76 L1678.3 392.04 L1679.8 392.3 L1681.3 392.54 L1682.8 392.76 L1684.3 392.97 L1685.8 393.16 L1687.3 393.34 L1688.8 393.5 L1690.3 393.65 L1691.8 393.79 L1693.3 393.92 L1694.8 394.03 L1696.3 394.14 L1697.8 394.24 L1699.3 394.33 L1700.8 394.41 L1702.3 394.49 L1703.8 394.55 L1705.3 394.62 L1706.8 394.67 L1708.3 394.73 L1709.8 394.77 L1711.3 394.82 L1712.8 394.86 L1714.3 394.89 L1715.8 394.92 L1717.3 394.95 L1718.8 394.98 L1720.3 395 L1721.8 395.02 L1723.3 395.04 L1724.8 395.06 L1726.3 395.07 L1727.8 395.09 L1729.3 395.1 L1730.8 395.11 L1732.3 395.12 L1733.8 395.13 L1735.3 395.14 L1736.8 395.15 L1738.3 395.15 L1739.8 395.16 L1741.3 395.16 L1742.8 395.17 L1744.3 395.17 L1745.8 395.17 L1747.3 395.18 L1748.8 395.18 L1750.3 395.18 L1751.8 395.18 L1753.3 395.19 L1754.8 395.19 L1756.3 395.19 L1757.8 395.19 L1759.3 395.19" fill="none" stroke="#00ffff" stroke-width="1.8" stroke-linejoin="round" stroke-linecap="butt"/>
<path d="M1323.9 395.2 L1869.8 395.2" fill="none" stroke="#0000ff" stroke-width="1.8" stroke-linejoin="round" stroke-linecap="butt"/>
<path d="M1324.26 398.89 L1325.26 398.88 L1326.26 398.88 L1327.26 398.87 L1328.26 398.86 L1329.26 398.85 L1330.26 398.84 L1331.26 398.83 L1332.26 398.82 L1333.26 398.81 L1334.26 398.8 L1335.26 398.79 L1336.26 398.78 L1337.26 398.77 L1338.26 398.75 L1339.26 398.74 L1340.26 398.73 L1341.26 398.71 L1342.26 398.7 L1343.26 398.68 L1344.26 398.67 L1345.26 398.65 L1346.26 398.64 L1347.26 398.62 L1348.26 398.61 L1349.26 398.59 L1350.26 398.58 L1351.26 398.56 L1352.26 398.54 L1353.26 398.52 L1354.26 398.5 L1355.26 398.48 L1356.26 398.46 L1357.26 398.44 L1358.26 398.42 L1359.26 398.4 L1360.26 398.37 L1361.26 398.35 L1362.26 398.33 L1363.26 398.3 L1364.26 398.28 L1365.26 398.25 L1366.26 398.22 L1367.26 398.19 L1368.26 398.17 L1369.26 398.14 L1370.26 398.11 L1371.26 398.08 L1372.26 398.05 L1373.26 398.01 L1374.26 397.98 L1375.26 397.95 L1376.26 397.91 L1377.26 397.88 L1378.26 397.84 L1379.26 397.81 L1380.26 397.77 L1381.26 397.73 L1382.26 397.68 L1383.26 397.64 L1384.26 397.59 L1385.26 397.54 L1386.26 397.49 L1387.26 397.44 L1388.26 397.39 L1389.26 397.33 L1390.26 397.28 L1391.26 397.22 L1392.26 397.16 L1393.26 397.09 L1394.26 397.03 L1395.26 396.96 L1396.26 396.89 L1397.26 396.82 L1398.26 396.75 L1399.26 396.67 L1400.26 396.58 L1401.26 396.49 L1402.26 396.38 L1403.26 396.28 L1404.26 396.16 L1405.26 396.05 L1406.26 395.93 L1407.26 395.82 L1408.26 395.7 L1409.26 395.57 L1410.26 395.42 L1411.26 395.26 L1412.26 395.07 L1413.26 394.84 L1414.26 394.52 L1415.26 394.17 L1416.26 393.78 L1417.26 393.34 L1418.26 392.85 L1419.26 392.32 L1420.26 391.78 L1421.26 391.2 L1422.26 390.59 L1423.26 389.92 L1424.26 389.19 L1425.26 388.41 L1426.26 387.53 L1427.26 386.53 L1428.26 385.37 L1429.26 384.1 L1430.26 382.8 L1431.26 381.38 L1432.26 379.89 L1433.26 378.51 L1434.26 377.37 L1435.26 376.37 L1436.26 375.46 L1437.26 374.57 L1438.26 373.7 L1439.26 372.87 L1440.26 372.04 L1441.27 371.21 L1442.28 370.35 L1443.29 369.51 L1444.31 368.68 L1445.34 367.89 L1446.36 367.12 L1447.4 366.38 L1448.43 365.67 L1449.47 365.03 L1450.51 364.41 L1451.55 363.73 L1452.59 362.93 L1453.64 361.94 L1454.68 360.85 L1455.72 359.73 L1456.77 358.63 L1457.81 357.51 L1458.86 356.38 L1459.9 355.24 L1460.94 354.09 L1461.98 352.93 L1463.01 351.74 L1464.05 350.53 L1465.08 349.3 L1466.1 348.04 L1467.12 346.76 L1468.14 345.45 L1469.15 344.12 L1470.16 342.76 L1471.16 341.35 L1472.16 339.9 L1473.16 338.4 L1474.16 336.85 L1475.16 335.25 L1476.16 333.59 L1477.16 331.88 L1478.16 330.11 L1479.16 328.29 L1480.16 326.43 L1481.16 324.53 L1482.16 322.61 L1483.16 320.66 L1484.16 318.69 L1485.16 316.7 L1486.16 314.69 L1487.16 312.66 L1488.16 310.62 L1489.16 308.56 L1490.16 306.49 L1491.16 304.41 L1492.16 302.31 L1493.16 300.19 L1494.16 298.05 L1495.16 295.88 L1496.16 293.71 L1497.16 291.51 L1498.16 289.28 L1499.16 287.02 L1500.16 284.71 L1501.16 282.37 L1502.16 280 L1503.16 277.59 L1504.16 275.13 L1505.16 272.63 L1506.16 270.08 L1507.16 267.49 L1508.16 264.87 L1509.16 262.21 L1510.16 259.5 L1511.16 256.75 L1512.16 253.96 L1513.16 251.14 L1514.16 248.31 L1515.16 245.46 L1516.16 242.62 L1517.16 239.79 L1518.16 236.98 L1519.16 234.21 L1520.16 231.48 L1521.16 228.79 L1522.16 226.13 L1523.16 223.49 L1524.16 220.88 L1525.16 218.27 L1526.16 215.68 L1527.16 213.08 L1528.16 210.48 L1529.16 207.88 L1530.16 205.28 L1531.16 202.68 L1532.16 200.08 L1533.16 197.48 L1534.16 194.88 L1535.16 192.28 L1536.16 189.67 L1537.16 187.07 L1538.16 184.48 L1539.16 181.91 L1540.16 179.37 L1541.16 176.86 L1542.16 174.38 L1543.16 171.95 L1544.16 169.55 L1545.16 167.22 L1546.16 164.95 L1547.16 162.74 L1548.16 160.58 L1549.16 158.48 L1550.16 156.42 L1551.16 154.41 L1552.16 152.46 L1553.16 150.59 L1554.16 148.77 L1555.16 147.01 L1556.16 145.3 L1557.16 143.64 L1558.16 142.03 L1559.16 140.48 L1560.16 138.98 L1561.16 137.53 L1562.16 136.12 L1563.15 134.75 L1564.15 133.42 L1565.13 132.13 L1566.12 130.89 L1567.1 129.7 L1568.08 128.57 L1569.06 127.49 L1570.04 126.47 L1571.02 125.5 L1571.99 124.58 L1572.96 123.72 L1573.93 122.92 L1574.9 122.17 L1575.87 121.47 L1576.84 120.83 L1577.8 120.23 L1578.77 119.68 L1579.74 119.18 L1580.7 118.74 L1581.67 118.33 L1582.64 117.98 L1583.6 117.67 L1584.57 117.41 L1585.54 117.19 L1586.51 117.02 L1587.48 116.89 L1588.45 116.8 L1589.42 116.75 L1590.4 116.74 L1591.37 116.77 L1592.35 116.84 L1593.33 116.95 L1594.31 117.09 L1595.3 117.27 L1596.29 117.48 L1597.28 117.73 L1598.27 118.01 L1599.26 118.33 L1600.26 118.69 L1601.26 119.09 L1602.26 119.51 L1603.26 119.98 L1604.26 120.5 L1605.26 121.05 L1606.26 121.66 L1607.26 122.3 L1608.26 122.97 L1609.26 123.68 L1610.26 124.42 L1611.26 125.19 L1612.26 125.99 L1613.26 126.82 L1614.26 127.67 L1615.26 128.56 L1616.26 129.48 L1617.26 130.45 L1618.26 131.45 L1619.26 132.5 L1620.26 133.59 L1621.26 134.71 L1622.26 135.88 L1623.26 137.09 L1624.26 138.35 L1625.26 139.64 L1626.26 140.98 L1627.26 142.35 L1628.26 143.76 L1629.26 145.21 L1630.26 146.72 L1631.26 148.28 L1632.26 149.88 L1633.26 151.53 L1634.26 153.2 L1635.26 154.92 L1636.26 156.68 L1637.26 158.48 L1638.26 160.34 L1639.26 162.24 L1640.26 164.18 L1641.26 166.16 L1642.26 168.17 L1643.26 170.21 L1644.26 172.31 L1645.26 174.44 L1646.26 176.6 L1647.26 178.79 L1648.26 181 L1649.26 183.23 L1650.26 185.49 L1651.26 187.79 L1652.26 190.14 L1653.26 192.54 L1654.26 194.97 L1655.26 197.44 L1656.26 199.94 L1657.26 202.48 L1658.26 205.05 L1659.26 207.65 L1660.26 210.25 L1661.26 212.86 L1662.26 215.47 L1663.26 218.07 L1664.26 220.68 L1665.26 223.27 L1666.26 225.84 L1667.26 228.38 L1668.26 230.9 L1669.26 233.4 L1670.26 235.86 L1671.26 238.31 L1672.26 240.75 L1673.26 243.22 L1674.26 245.74 L1675.26 248.27 L1676.26 250.79 L1677.26 253.28 L1678.26 255.74 L1679.26 258.19 L1680.26 260.6 L1681.26 262.95 L1682.26 265.22 L1683.26 267.4 L1684.26 269.53 L1685.26 271.64 L1686.26 273.73 L1687.26 275.82 L1688.26 277.88 L1689.26 279.94 L1690.26 281.97 L1691.26 284 L1692.26 286.01 L1693.26 288.03 L1694.26 290.05 L1695.26 292.08 L1696.26 294.13 L1697.26 296.19 L1698.26 298.26 L1699.26 300.33 L1700.26 302.42 L1701.26 304.5 L1702.26 306.58 L1703.26 308.63 L1704.26 310.68 L1705.26 312.72 L1706.26 314.75 L1707.26 316.75 L1708.26 318.71 L1709.26 320.62 L1710.26 322.48 L1711.26 324.3 L1712.26 326.07 L1713.26 327.78 L1714.26 329.44 L1715.26 331.04 L1716.26 332.62 L1717.26 334.17 L1718.26 335.71 L1719.26 337.25 L1720.26 338.77 L1721.26 340.28 L1722.26 341.76 L1723.26 343.22 L1724.26 344.65 L1725.26 346.06 L1726.26 347.45 L1727.26 348.81 L1728.26 350.14 L1729.26 351.42 L1730.26 352.67 L1731.26 353.87 L1732.26 355.04 L1733.26 356.18 L1734.26 357.27 L1735.26 358.32 L1736.26 359.34 L1737.26 360.32 L1738.26 361.28 L1739.26 362.23 L1740.26 363.16 L1741.26 364.08 L1742.26 365 L1743.26 365.9 L1744.26 366.79 L1745.26 367.67 L1746.26 368.53 L1747.26 369.38 L1748.26 370.22 L1749.26 371.04 L1750.26 371.84 L1751.26 372.61 L1752.26 373.36 L1753.26 374.08 L1754.26 374.77 L1755.26 375.43 L1756.26 376.07 L1757.26 376.68 L1758.26 377.27 L1759.26 377.84 L1760.26 378.4 L1761.26 378.94 L1762.26 379.46 L1763.26 379.98 L1764.26 380.48 L1765.26 380.97 L1766.26 381.46 L1767.26 381.93 L1768.26 382.38 L1769.26 382.82 L1770.26 383.25 L1771.26 383.65 L1772.26 384.05 L1773.26 384.42 L1774.26 384.78 L1775.26 385.12 L1776.26 385.45 L1777.26 385.77 L1778.26 386.07 L1779.26 386.37 L1780.26 386.67 L1781.26 386.96 L1782.26 387.24 L1783.26 387.51 L1784.26 387.78 L1785.26 388.04 L1786.26 388.3 L1787.26 388.55 L1788.26 388.8 L1789.26 389.04 L1790.26 389.29 L1791.26 389.53 L1792.26 389.77 L1793.26 390 L1794.26 390.22 L1795.26 390.43 L1796.26 390.64 L1797.26 390.83 L1798.26 391.01 L1799.26 391.19 L1800.26 391.35 L1801.26 391.51 L1802.26 391.67 L1803.26 391.83 L1804.26 391.99 L1805.26 392.14 L1806.26 392.28 L1807.26 392.42 L1808.26 392.55 L1809.26 392.68 L1810.26 392.8 L1811.26 392.91 L1812.26 393.01 L1813.26 393.12 L1814.26 393.22 L1815.26 393.32 L1816.26 393.41 L1817.26 393.51 L1818.26 393.61 L1819.26 393.7 L1820.26 393.79 L1821.26 393.89 L1822.26 393.97 L1823.26 394.06 L1824.26 394.14 L1825.26 394.22 L1826.26 394.29 L1827.26 394.35 L1828.26 394.41 L1829.26 394.47 L1830.26 394.52 L1831.26 394.57 L1832.26 394.62 L1833.26 394.66 L1834.26 394.7 L1835.26 394.74 L1836.26 394.78 L1837.26 394.81 L1838.26 394.84 L1839.26 394.88 L1840.26 394.9 L1841.26 394.93 L1842.26 394.96 L1843.26 394.98 L1844.26 395 L1845.26 395.02 L1846.26 395.04 L1847.26 395.06 L1848.26 395.07 L1849.26 395.09 L1850.26 395.11 L1851.26 395.13 L1852.26 395.15 L1853.26 395.18 L1854.26 395.21 L1855.26 395.25 L1856.26 395.3 L1857.26 395.35 L1858.26 395.4 L1859.26 395.45 L1860.26 395.5 L1861.26 395.53 L1862.26 395.53 L1863.26 395.51 L1864.26 395.46 L1865.26 395.4 L1866.26 395.32 L1867.26 395.24 L1868.26 395.17 L1868.58 395.09" fill="none" stroke="#ff0000" stroke-width="1.8" stroke-linejoin="round" stroke-linecap="butt"/>
<line x1="1546.9" y1="119.9" x2="1546.9" y2="427" stroke="#1a1a1a" stroke-width="1.5" stroke-dasharray="5.1 4.72"/>
<line x1="1621.1" y1="105" x2="1621.1" y2="427" stroke="#1a1a1a" stroke-width="1.5" stroke-dasharray="5.1 4.72"/>
<text id="t29" transform="translate(1522.6 113.1) scale(1 1.0100)" font-size="28.6" text-anchor="middle">531.3</text>
<text id="t30" transform="translate(1627.9 96.5) scale(1 1.0000)" font-size="28.6" text-anchor="middle">530.1</text>
<path d="M1323.9 26.2 L1869.8 26.2 L1869.8 428.4 L1323.9 428.4 Z" fill="none" stroke="#000" stroke-width="3.3" stroke-linejoin="round"/>
<line x1="1384.56" y1="428.4" x2="1384.56" y2="436.55" stroke="#000" stroke-width="3.3" stroke-linecap="round"/>
<text id="t31" transform="translate(1384.56 469) scale(1 1.0250)" font-size="34.3" text-anchor="middle">534</text>
<line x1="1505.87" y1="428.4" x2="1505.87" y2="436.55" stroke="#000" stroke-width="3.3" stroke-linecap="round"/>
<text id="t32" transform="translate(1505.87 469) scale(1 1.0250)" font-size="34.3" text-anchor="middle">532</text>
<line x1="1627.18" y1="428.4" x2="1627.18" y2="436.55" stroke="#000" stroke-width="3.3" stroke-linecap="round"/>
<text id="t33" transform="translate(1627.18 469) scale(1 1.0250)" font-size="34.3" text-anchor="middle">530</text>
<line x1="1748.49" y1="428.4" x2="1748.49" y2="436.55" stroke="#000" stroke-width="3.3" stroke-linecap="round"/>
<text id="t34" transform="translate(1748.49 469) scale(1 1.0250)" font-size="34.3" text-anchor="middle">528</text>
<line x1="1869.8" y1="428.4" x2="1869.8" y2="436.55" stroke="#000" stroke-width="3.3" stroke-linecap="round"/>
<text id="t35" transform="translate(1869.8 469) scale(1 1.0250)" font-size="34.3" text-anchor="middle">526</text>
<line x1="1323.9" y1="428.4" x2="1323.9" y2="432.85" stroke="#000" stroke-width="3.3" stroke-linecap="round"/>
<line x1="1445.21" y1="428.4" x2="1445.21" y2="432.85" stroke="#000" stroke-width="3.3" stroke-linecap="round"/>
<line x1="1566.52" y1="428.4" x2="1566.52" y2="432.85" stroke="#000" stroke-width="3.3" stroke-linecap="round"/>
<line x1="1687.83" y1="428.4" x2="1687.83" y2="432.85" stroke="#000" stroke-width="3.3" stroke-linecap="round"/>
<line x1="1809.14" y1="428.4" x2="1809.14" y2="432.85" stroke="#000" stroke-width="3.3" stroke-linecap="round"/>
<text id="t36" transform="translate(1624.6 519.7) scale(1 1.0000)" font-size="46.35" text-anchor="middle">Binding energy (eV)</text>
<text id="t37" transform="translate(1277.7 36.3) scale(1 1.0400)" font-size="47" text-anchor="start">C</text>
<text id="t38" transform="translate(1346 72.6) scale(1 1.0300)" font-size="38" text-anchor="start">O 1s</text>
</g>
<g id="panelD">
<path d="M37.11 930.63 L44.92 928.78 L50.61 932.05 L56.29 929.64 L61.97 932.34 L72.63 930.63 L82.58 928.07 L88.97 926.65 L93.95 923.53 L99.63 919.55 L105.32 921.82 L110.29 917.56 L115.69 912.87 L120.95 914.29 L126.63 901.78 L132.03 901.5 L137.29 897.95 L142.69 886.29 L147.95 882.03 L153.63 876.63 L159.03 868.11 L164.29 858.87 L169.97 847.93 L175.23 846.08 L180.63 816.95 L186.32 813.82 L191.57 809.84 L196.97 808.85 L202.37 804.44 L207.63 793.78 L213.32 790.66 L218.72 798.47 L224.26 789.95 L229.66 798.47 L235.06 819.79 L240.6 823.77 L246 829.03 L251.4 843.52 L256.94 843.52 L262.34 851.76 L267.74 863.84 L273.28 880.18 L278.68 879.47 L284.37 885.16 L289.63 895.82 L294.26 895.82 L299.24 893.68 L304.92 892.26 L310.61 888.28 L316.01 882.6 L321.55 871.66 L326.95 852.47 L332.35 853.18 L337.89 848.21 L343.29 823.34 L348.69 814.11 L353.95 783.05 L359.63 755.05 L365.03 735.87 L370.57 724.5 L375.97 692.53 L381.37 695.79 L386.92 686.84 L392.32 660.27 L397.72 657 L403.26 651.32 L408.66 651.32 L414.06 649.89 L419.6 689.68 L425 706.03 L430.4 707.45 L435.94 701.76 L441.34 715.26 L446.74 765 L452.28 767.56 L457.68 822.63 L463.08 838.26 L468.34 838.26 L473.74 865.97 L479.28 881.61 L484.68 885.87 L490.08 896.53 L495.63 909.03 L501.03 907.18 L506.43 916.42 L511.97 915 L517.37 920.68 L522.77 925.94 L528.31 925.94 L533.71 928.93 L539.11 931.34 L544.65 930.35 L550.05 931.77 L555.45 928.5 L560 931.77" fill="none" stroke="#000" stroke-width="2.3" stroke-linejoin="round" stroke-linecap="butt"/>
<path d="M256.1 844.43 L257.6 846.99 L259.1 849.55 L260.6 852.09 L262.1 854.62 L263.6 857.13 L265.1 859.61 L266.6 862.05 L268.1 864.45 L269.6 866.8 L271.1 869.1 L272.6 871.34 L274.1 873.51 L275.6 875.61 L277.1 877.63 L278.6 879.57 L280.1 881.42 L281.6 883.19 L283.1 884.85 L284.6 886.41 L286.1 887.87 L287.6 889.21 L289.1 890.44 L290.6 891.56 L292.1 892.54 L293.6 893.4 L295.1 894.13 L296.6 894.73 L298.1 895.18 L299.6 895.5 L301.1 895.66 L302.6 895.68 L304.1 895.55 L305.6 895.26 L307.1 894.81 L308.6 894.2 L310.1 893.42 L311.6 892.48 L313.1 891.36 L314.6 890.08 L316.1 888.62 L317.6 886.98 L319.1 885.16 L320.6 883.17 L322.1 880.99 L323.6 878.63 L325.1 876.09 L326.6 873.37 L328.1 870.47 L329.6 867.38 L331.1 864.11 L332.6 860.67 L334.1 857.05 L335.6 853.25 L337.1 849.28 L338.6 845.15 L340.1 840.85 L341.6 836.4 L343.1 831.79 L344.6 827.04 L346.1 822.14 L347.6 817.12 L349.1 811.98 L350.6 806.72" fill="none" stroke="#ff0000" stroke-width="2.15" stroke-linejoin="round" stroke-linecap="butt"/>
<path d="M37.1 932.8 L579.5 932.8" fill="none" stroke="#0000ff" stroke-width="2.3" stroke-linejoin="round" stroke-linecap="butt"/>
<path d="M250 932.36 L251.5 932.3 L253 932.23 L254.5 932.16 L256 932.08 L257.5 931.99 L259 931.89 L260.5 931.78 L262 931.65 L263.5 931.51 L265 931.36 L266.5 931.19 L268 931 L269.5 930.79 L271 930.56 L272.5 930.31 L274 930.03 L275.5 929.72 L277 929.39 L278.5 929.02 L280 928.62 L281.5 928.18 L283 927.7 L284.5 927.18 L286 926.62 L287.5 926 L289 925.33 L290.5 924.61 L292 923.82 L293.5 922.98 L295 922.06 L296.5 921.08 L298 920.02 L299.5 918.88 L301 917.66 L302.5 916.35 L304 914.95 L305.5 913.45 L307 911.85 L308.5 910.15 L310 908.34 L311.5 906.41 L313 904.37 L314.5 902.21 L316 899.92 L317.5 897.5 L319 894.95 L320.5 892.26 L322 889.44 L323.5 886.47 L325 883.36 L326.5 880.11 L328 876.71 L329.5 873.16 L331 869.46 L332.5 865.61 L334 861.62 L335.5 857.48 L337 853.19 L338.5 848.76 L340 844.18 L341.5 839.48 L343 834.64 L344.5 829.67 L346 824.58 L347.5 819.38 L349 814.06 L350.5 808.65 L352 803.15 L353.5 797.56 L355 791.91 L356.5 786.19 L358 780.42 L359.5 774.62 L361 768.79 L362.5 762.96 L364 757.12 L365.5 751.3 L367 745.52 L368.5 739.78 L370 734.1 L371.5 728.51 L373 723 L374.5 717.61 L376 712.34 L377.5 707.22 L379 702.25 L380.5 697.45 L382 692.85 L383.5 688.44 L385 684.25 L386.5 680.3 L388 676.59 L389.5 673.13 L391 669.95 L392.5 667.04 L394 664.43 L395.5 662.11 L397 660.1 L398.5 658.41 L400 657.03 L401.5 655.98 L403 655.26 L404.5 654.87 L406 654.82 L407.5 655.1 L409 655.71 L410.5 656.65 L412 657.91 L413.5 659.5 L415 661.41 L416.5 663.62 L418 666.14 L419.5 668.95 L421 672.04 L422.5 675.41 L424 679.03 L425.5 682.91 L427 687.02 L428.5 691.35 L430 695.9 L431.5 700.63 L433 705.54 L434.5 710.62 L436 715.84 L437.5 721.19 L439 726.66 L440.5 732.23 L442 737.88 L443.5 743.6 L445 749.37 L446.5 755.18 L448 761.01 L449.5 766.85 L451 772.68 L452.5 778.49 L454 784.27 L455.5 790.01 L457 795.69 L458.5 801.3 L460 806.83 L461.5 812.27 L463 817.62 L464.5 822.86 L466 827.99 L467.5 832.99 L469 837.88 L470.5 842.63 L472 847.25 L473.5 851.73 L475 856.06 L476.5 860.25 L478 864.3 L479.5 868.19 L481 871.94 L482.5 875.54 L484 878.99 L485.5 882.3 L487 885.45 L488.5 888.47 L490 891.34 L491.5 894.07 L493 896.66 L494.5 899.13 L496 901.46 L497.5 903.66 L499 905.74 L500.5 907.71 L502 909.56 L503.5 911.3 L505 912.93 L506.5 914.46 L508 915.89 L509.5 917.23 L511 918.48 L512.5 919.65 L514 920.73 L515.5 921.74 L517 922.68 L518.5 923.55 L520 924.35 L521.5 925.1 L523 925.78 L524.5 926.42 L526 927 L527.5 927.53 L529 928.03 L530.5 928.48 L532 928.89 L533.5 929.27 L535 929.61 L536.5 929.93 L538 930.22 L539.5 930.48 L541 930.72 L542.5 930.93 L544 931.13 L545.5 931.3 L547 931.46 L548.5 931.61 L550 931.73 L551.5 931.85 L553 931.96 L554.5 932.05 L556 932.14 L557.5 932.21 L559 932.28 L560.5 932.34 L562 932.39 L563.5 932.44 L565 932.48" fill="none" stroke="#00ff00" stroke-width="2.15" stroke-linejoin="round" stroke-linecap="butt"/>
<path d="M60 932.32 L61.5 932.26 L63 932.2 L64.5 932.13 L66 932.05 L67.5 931.97 L69 931.88 L70.5 931.78 L72 931.67 L73.5 931.55 L75 931.42 L76.5 931.28 L78 931.13 L79.5 930.96 L81 930.77 L82.5 930.57 L84 930.36 L85.5 930.12 L87 929.86 L88.5 929.59 L90 929.29 L91.5 928.97 L93 928.62 L94.5 928.25 L96 927.85 L97.5 927.42 L99 926.95 L100.5 926.46 L102 925.93 L103.5 925.36 L105 924.76 L106.5 924.11 L108 923.43 L109.5 922.7 L111 921.92 L112.5 921.1 L114 920.23 L115.5 919.31 L117 918.34 L118.5 917.32 L120 916.24 L121.5 915.1 L123 913.91 L124.5 912.65 L126 911.34 L127.5 909.97 L129 908.53 L130.5 907.03 L132 905.47 L133.5 903.84 L135 902.15 L136.5 900.4 L138 898.58 L139.5 896.7 L141 894.75 L142.5 892.75 L144 890.68 L145.5 888.56 L147 886.37 L148.5 884.13 L150 881.84 L151.5 879.5 L153 877.11 L154.5 874.67 L156 872.19 L157.5 869.67 L159 867.12 L160.5 864.54 L162 861.94 L163.5 859.31 L165 856.67 L166.5 854.01 L168 851.35 L169.5 848.69 L171 846.04 L172.5 843.4 L174 840.78 L175.5 838.18 L177 835.61 L178.5 833.08 L180 830.59 L181.5 828.15 L183 825.77 L184.5 823.45 L186 821.2 L187.5 819.03 L189 816.94 L190.5 814.94 L192 813.02 L193.5 811.21 L195 809.51 L196.5 807.91 L198 806.43 L199.5 805.06 L201 803.82 L202.5 802.71 L204 801.73 L205.5 800.88 L207 800.17 L208.5 799.59 L210 799.16 L211.5 798.87 L213 798.72 L214.5 798.72 L216 798.85 L217.5 799.14 L219 799.56 L220.5 800.12 L222 800.83 L223.5 801.67 L225 802.64 L226.5 803.74 L228 804.98 L229.5 806.33 L231 807.81 L232.5 809.4 L234 811.1 L235.5 812.9 L237 814.8 L238.5 816.8 L240 818.89 L241.5 821.06 L243 823.3 L244.5 825.62 L246 827.99 L247.5 830.43 L249 832.91 L250.5 835.44 L252 838 L253.5 840.6 L255 843.22 L256.5 845.86 L258 848.52 L259.5 851.17 L261 853.83 L262.5 856.49 L264 859.13 L265.5 861.76 L267 864.37 L268.5 866.95 L270 869.5 L271.5 872.02 L273 874.51 L274.5 876.94 L276 879.34 L277.5 881.69 L279 883.98 L280.5 886.23 L282 888.41 L283.5 890.54 L285 892.61 L286.5 894.62 L288 896.57 L289.5 898.46 L291 900.28 L292.5 902.04 L294 903.73 L295.5 905.36 L297 906.93 L298.5 908.43 L300 909.87 L301.5 911.25 L303 912.57 L304.5 913.83 L306 915.02 L307.5 916.16 L309 917.25 L310.5 918.28 L312 919.25 L313.5 920.17 L315 921.05 L316.5 921.87 L318 922.65 L319.5 923.38 L321 924.07 L322.5 924.72 L324 925.32 L325.5 925.89 L327 926.42 L328.5 926.92 L330 927.39 L331.5 927.82 L333 928.22 L334.5 928.6 L336 928.95 L337.5 929.27 L339 929.57 L340.5 929.85 L342 930.1 L343.5 930.34 L345 930.56 L346.5 930.76 L348 930.95 L349.5 931.12 L351 931.27 L352.5 931.42 L354 931.55 L355.5 931.67 L357 931.78 L358.5 931.88 L360 931.97 L361.5 932.05 L363 932.12 L364.5 932.19 L366 932.26 L367.5 932.31" fill="none" stroke="#00ffff" stroke-width="2.15" stroke-linejoin="round" stroke-linecap="butt"/>
<line x1="214.7" y1="772.9" x2="214.7" y2="968" stroke="#2a2a2a" stroke-width="1.4" stroke-dasharray="2.5 3.58"/>
<line x1="404.8" y1="626.3" x2="404.8" y2="968" stroke="#2a2a2a" stroke-width="1.4" stroke-dasharray="2.5 3.58"/>
<text id="t39" transform="translate(219.5 763.5) scale(1 1.0900)" font-size="31" text-anchor="middle">350.7</text>
<text id="t40" transform="translate(410.6 617.2) scale(1 1.0850)" font-size="31" text-anchor="middle">347.1</text>
<path d="M37.1 570.8 L579.5 570.8 L579.5 969.6 L37.1 969.6 Z" fill="none" stroke="#000" stroke-width="3.8" stroke-linejoin="round"/>
<line x1="37.1" y1="969.6" x2="37.1" y2="977.9" stroke="#000" stroke-width="3.8" stroke-linecap="round"/>
<text id="t41" transform="translate(36.7 1011.25) scale(1 1.0750)" font-size="35.4" text-anchor="middle">354</text>
<line x1="145.58" y1="969.6" x2="145.58" y2="977.9" stroke="#000" stroke-width="3.8" stroke-linecap="round"/>
<text id="t42" transform="translate(145.18 1011.25) scale(1 1.0750)" font-size="35.4" text-anchor="middle">352</text>
<line x1="254.06" y1="969.6" x2="254.06" y2="977.9" stroke="#000" stroke-width="3.8" stroke-linecap="round"/>
<text id="t43" transform="translate(253.66 1011.25) scale(1 1.0750)" font-size="35.4" text-anchor="middle">350</text>
<line x1="362.54" y1="969.6" x2="362.54" y2="977.9" stroke="#000" stroke-width="3.8" stroke-linecap="round"/>
<text id="t44" transform="translate(362.14 1011.25) scale(1 1.0750)" font-size="35.4" text-anchor="middle">348</text>
<line x1="471.02" y1="969.6" x2="471.02" y2="977.9" stroke="#000" stroke-width="3.8" stroke-linecap="round"/>
<text id="t45" transform="translate(470.62 1011.25) scale(1 1.0750)" font-size="35.4" text-anchor="middle">346</text>
<line x1="579.5" y1="969.6" x2="579.5" y2="977.9" stroke="#000" stroke-width="3.8" stroke-linecap="round"/>
<text id="t46" transform="translate(579.1 1011.25) scale(1 1.0750)" font-size="35.4" text-anchor="middle">344</text>
<line x1="91.34" y1="969.6" x2="91.34" y2="974.3" stroke="#000" stroke-width="3.8" stroke-linecap="round"/>
<line x1="199.82" y1="969.6" x2="199.82" y2="974.3" stroke="#000" stroke-width="3.8" stroke-linecap="round"/>
<line x1="308.3" y1="969.6" x2="308.3" y2="974.3" stroke="#000" stroke-width="3.8" stroke-linecap="round"/>
<line x1="416.78" y1="969.6" x2="416.78" y2="974.3" stroke="#000" stroke-width="3.8" stroke-linecap="round"/>
<line x1="525.26" y1="969.6" x2="525.26" y2="974.3" stroke="#000" stroke-width="3.8" stroke-linecap="round"/>
<text id="t47" transform="translate(309.5 1063.4) scale(1 1.0000)" font-size="46.35" text-anchor="middle">Binding energy (eV)</text>
<text id="t48" transform="translate(-0.5 579) scale(1 1.0400)" font-size="46" text-anchor="start">D</text>
<text id="t49" transform="translate(55.6 619.6) scale(1 1.0300)" font-size="38.5" text-anchor="start">Ca 2p</text>
</g>
<g id="panelE">
<path d="M685.68 941.37 L690.66 939.24 L694.21 941.37 L698.47 940.66 L702.74 941.08 L706.29 938.95 L710.13 937.53 L714.11 941.37 L718.08 939.95 L721.92 940.94 L725.76 938.95 L729.74 938.53 L733.57 940.94 L737.55 940.94 L741.39 938.24 L745.37 937.53 L749.21 936.82 L753.18 936.82 L757.02 935.68 L761 935.68 L764.84 932.56 L768.82 937.82 L772.65 930.28 L776.63 934.97 L780.47 935.68 L784.45 935.26 L788.28 934.97 L792.26 932.13 L796.1 931.85 L800.08 929.29 L803.92 926.87 L807.89 920.76 L811.73 913.66 L815.43 919.34 L819.55 913.66 L823.53 915.79 L827.36 916.5 L831.06 908.68 L835.18 911.53 L839.16 902.29 L842.99 905.13 L846.97 887.37 L850.81 880.97 L854.79 878.13 L858.63 890.92 L862.61 850.42 L866.44 865.77 L870.42 862.93 L874.26 833.37 L878.24 800.68 L881.76 789.95 L886.03 767.64 L889.86 789.95 L893.84 768.63 L897.68 757.26 L901.66 742.34 L905.49 737.37 L909.19 737.37 L913.03 743.05 L917.01 739.5 L920.84 734.53 L924.82 739.5 L928.66 694.74 L932.49 694.45 L936.47 693.32 L940.31 688.34 L944.29 688.34 L948.13 693.32 L952.11 698.29 L955.94 708.95 L959.92 706.11 L963.76 706.11 L967.74 718.89 L971.57 717.47 L975.55 713.64 L979.39 745.18 L983.37 750.16 L987.21 767.92 L991.18 767.92 L994.84 804.95 L998.68 797.13 L1002.66 802.11 L1006.49 834.08 L1010.47 834.08 L1014.31 841.89 L1018.29 839.34 L1022.13 838.34 L1026.11 840.76 L1029.94 883.82 L1033.92 890.21 L1037.76 888.79 L1041.74 893.05 L1045.57 893.05 L1049.84 895.89 L1053.82 905.13 L1057.65 914.37 L1061.35 932.56 L1065.18 929.29 L1069.16 932.13 L1073 934.97 L1076.84 928.58 L1080.82 932.56 L1084.65 933.55 L1088.63 932.56 L1092.47 936.39 L1096.45 937.53 L1100.28 939.95 L1104.26 940.37 L1108.1 940.66 L1112.08 941.37 L1115.92 942.08 L1119.89 940.94 L1123.73 938.53 L1127.71 937.11 L1131.55 940.66 L1135.53 939.95 L1139.36 940.66 L1143.34 937.82 L1147.18 941.08 L1151.16 941.37 L1154.99 939.95 L1158.97 940.94 L1162.81 939.24 L1166.79 939.24 L1170.63 940.94 L1174.61 940.94 L1178.44 939.95 L1182.42 939.24 L1186.26 939.24 L1190.24 940.94 L1194.07 940.23 L1197.63 936.39 L1201.89 943.93 L1205.87 943.5 L1209.71 942.79 L1213.68 944.21 L1217.52 944.64 L1221.5 943.93 L1225.34 942.08 L1230.03 940.66" fill="none" stroke="#000" stroke-width="2.3" stroke-linejoin="round" stroke-linecap="butt"/>
<path d="M684.8 942.5 L1231 942.5" fill="none" stroke="#0000ff" stroke-width="2.3" stroke-linejoin="round" stroke-linecap="butt"/>
<path d="M684.8 942.49 L686.3 942.49 L687.8 942.49 L689.3 942.49 L690.8 942.49 L692.3 942.49 L693.8 942.49 L695.3 942.49 L696.8 942.48 L698.3 942.48 L699.8 942.48 L701.3 942.48 L702.8 942.47 L704.3 942.47 L705.8 942.47 L707.3 942.46 L708.8 942.46 L710.3 942.45 L711.8 942.45 L713.3 942.44 L714.8 942.44 L716.3 942.43 L717.8 942.42 L719.3 942.41 L720.8 942.4 L722.3 942.39 L723.8 942.38 L725.3 942.37 L726.8 942.35 L728.3 942.34 L729.8 942.32 L731.3 942.3 L732.8 942.28 L734.3 942.26 L735.8 942.23 L737.3 942.2 L738.8 942.17 L740.3 942.14 L741.8 942.1 L743.3 942.06 L744.8 942.02 L746.3 941.97 L747.8 941.92 L749.3 941.86 L750.8 941.8 L752.3 941.74 L753.8 941.67 L755.3 941.59 L756.8 941.5 L758.3 941.41 L759.8 941.31 L761.3 941.2 L762.8 941.09 L764.3 940.96 L765.8 940.83 L767.3 940.68 L768.8 940.52 L770.3 940.35 L771.8 940.17 L773.3 939.97 L774.8 939.76 L776.3 939.53 L777.8 939.29 L779.3 939.03 L780.8 938.75 L782.3 938.45 L783.8 938.13 L785.3 937.79 L786.8 937.42 L788.3 937.03 L789.8 936.62 L791.3 936.18 L792.8 935.71 L794.3 935.21 L795.8 934.67 L797.3 934.11 L798.8 933.51 L800.3 932.88 L801.8 932.2 L803.3 931.49 L804.8 930.74 L806.3 929.94 L807.8 929.11 L809.3 928.22 L810.8 927.29 L812.3 926.31 L813.8 925.27 L815.3 924.19 L816.8 923.05 L818.3 921.85 L819.8 920.59 L821.3 919.28 L822.8 917.9 L824.3 916.46 L825.8 914.96 L827.3 913.39 L828.8 911.75 L830.3 910.04 L831.8 908.26 L833.3 906.41 L834.8 904.49 L836.3 902.49 L837.8 900.42 L839.3 898.27 L840.8 896.04 L842.3 893.74 L843.8 891.36 L845.3 888.9 L846.8 886.37 L848.3 883.75 L849.8 881.06 L851.3 878.29 L852.8 875.44 L854.3 872.51 L855.8 869.51 L857.3 866.44 L858.8 863.29 L860.3 860.07 L861.8 856.78 L863.3 853.42 L864.8 849.99 L866.3 846.5 L867.8 842.96 L869.3 839.35 L870.8 835.69 L872.3 831.97 L873.8 828.21 L875.3 824.4 L876.8 820.56 L878.3 816.68 L879.8 812.76 L881.3 808.82 L882.8 804.86 L884.3 800.88 L885.8 796.89 L887.3 792.89 L888.8 788.89 L890.3 784.9 L891.8 780.92 L893.3 776.95 L894.8 773.01 L896.3 769.1 L897.8 765.22 L899.3 761.38 L900.8 757.59 L902.3 753.86 L903.8 750.19 L905.3 746.59 L906.8 743.06 L908.3 739.61 L909.8 736.24 L911.3 732.97 L912.8 729.8 L914.3 726.74 L915.8 723.78 L917.3 720.94 L918.8 718.23 L920.3 715.64 L921.8 713.19 L923.3 710.87 L924.8 708.7 L926.3 706.67 L927.8 704.79 L929.3 703.07 L930.8 701.51 L932.3 700.11 L933.8 698.87 L935.3 697.8 L936.8 696.9 L938.3 696.18 L939.8 695.62 L941.3 695.24 L942.8 695.04 L944.3 695.01 L945.8 695.16 L947.3 695.48 L948.8 695.97 L950.3 696.64 L951.8 697.49 L953.3 698.5 L954.8 699.68 L956.3 701.02 L957.8 702.53 L959.3 704.2 L960.8 706.03 L962.3 708 L963.8 710.13 L965.3 712.4 L966.8 714.81 L968.3 717.35 L969.8 720.03 L971.3 722.82 L972.8 725.74 L974.3 728.77 L975.8 731.9 L977.3 735.14 L978.8 738.47 L980.3 741.9 L981.8 745.4 L983.3 748.98 L984.8 752.63 L986.3 756.34 L987.8 760.11 L989.3 763.93 L990.8 767.8 L992.3 771.7 L993.8 775.63 L995.3 779.59 L996.8 783.57 L998.3 787.56 L999.8 791.56 L1001.3 795.56 L1002.8 799.55 L1004.3 803.53 L1005.8 807.5 L1007.3 811.45 L1008.8 815.37 L1010.3 819.27 L1011.8 823.13 L1013.3 826.95 L1014.8 830.72 L1016.3 834.45 L1017.8 838.13 L1019.3 841.76 L1020.8 845.33 L1022.3 848.84 L1023.8 852.28 L1025.3 855.67 L1026.8 858.98 L1028.3 862.22 L1029.8 865.4 L1031.3 868.5 L1032.8 871.52 L1034.3 874.47 L1035.8 877.35 L1037.3 880.14 L1038.8 882.86 L1040.3 885.5 L1041.8 888.07 L1043.3 890.55 L1044.8 892.96 L1046.3 895.29 L1047.8 897.54 L1049.3 899.71 L1050.8 901.81 L1052.3 903.83 L1053.8 905.78 L1055.3 907.65 L1056.8 909.45 L1058.3 911.19 L1059.8 912.85 L1061.3 914.44 L1062.8 915.97 L1064.3 917.43 L1065.8 918.83 L1067.3 920.16 L1068.8 921.44 L1070.3 922.65 L1071.8 923.81 L1073.3 924.92 L1074.8 925.97 L1076.3 926.97 L1077.8 927.92 L1079.3 928.82 L1080.8 929.67 L1082.3 930.48 L1083.8 931.25 L1085.3 931.97 L1086.8 932.66 L1088.3 933.3 L1089.8 933.91 L1091.3 934.49 L1092.8 935.03 L1094.3 935.54 L1095.8 936.02 L1097.3 936.47 L1098.8 936.9 L1100.3 937.3 L1101.8 937.67 L1103.3 938.02 L1104.8 938.35 L1106.3 938.65 L1107.8 938.94 L1109.3 939.21 L1110.8 939.45 L1112.3 939.69 L1113.8 939.9 L1115.3 940.1 L1116.8 940.29 L1118.3 940.47 L1119.8 940.63 L1121.3 940.78 L1122.8 940.92 L1124.3 941.05 L1125.8 941.17 L1127.3 941.28 L1128.8 941.38 L1130.3 941.47 L1131.8 941.56 L1133.3 941.64 L1134.8 941.71 L1136.3 941.78 L1137.8 941.85 L1139.3 941.9 L1140.8 941.96 L1142.3 942 L1143.8 942.05 L1145.3 942.09 L1146.8 942.13 L1148.3 942.16 L1149.8 942.19 L1151.3 942.22 L1152.8 942.25 L1154.3 942.27 L1155.8 942.29 L1157.3 942.31 L1158.8 942.33 L1160.3 942.35 L1161.8 942.36 L1163.3 942.38 L1164.8 942.39 L1166.3 942.4 L1167.8 942.41 L1169.3 942.42 L1170.8 942.43 L1172.3 942.43 L1173.8 942.44 L1175.3 942.45 L1176.8 942.45 L1178.3 942.46 L1179.8 942.46 L1181.3 942.47 L1182.8 942.47 L1184.3 942.47 L1185.8 942.48 L1187.3 942.48 L1188.8 942.48 L1190.3 942.48 L1191.8 942.48 L1193.3 942.49 L1194.8 942.49 L1196.3 942.49 L1197.8 942.49 L1199.3 942.49 L1200.8 942.49 L1202.3 942.49 L1203.8 942.49 L1205.3 942.49 L1206.8 942.5 L1208.3 942.5 L1209.8 942.5 L1211.3 942.5 L1212.8 942.5 L1214.3 942.5 L1215.8 942.5 L1217.3 942.5 L1218.8 942.5 L1220.3 942.5 L1221.8 942.5 L1223.3 942.5 L1224.8 942.5 L1226.3 942.5 L1227.8 942.5 L1229.3 942.5 L1230.8 942.5" fill="none" stroke="#00ffff" stroke-width="2.3" stroke-linejoin="round" stroke-linecap="butt"/>
<line x1="944.7" y1="658.1" x2="944.7" y2="968" stroke="#2a2a2a" stroke-width="1.4" stroke-dasharray="2.5 3.58"/>
<text id="t50" transform="translate(947.5 648.3) scale(1 1.0850)" font-size="31.3" text-anchor="middle">133.3</text>
<path d="M684.8 570.2 L1231 570.2 L1231 970.1 L684.8 970.1 Z" fill="none" stroke="#000" stroke-width="3.9" stroke-linejoin="round"/>
<line x1="684.8" y1="970.1" x2="684.8" y2="978.35" stroke="#000" stroke-width="3.9" stroke-linecap="round"/>
<text id="t51" transform="translate(684.4 1012.4) scale(1 1.0680)" font-size="36.3" text-anchor="middle">140</text>
<line x1="840.86" y1="970.1" x2="840.86" y2="978.35" stroke="#000" stroke-width="3.9" stroke-linecap="round"/>
<text id="t52" transform="translate(840.46 1012.4) scale(1 1.0680)" font-size="36.3" text-anchor="middle">136</text>
<line x1="996.91" y1="970.1" x2="996.91" y2="978.35" stroke="#000" stroke-width="3.9" stroke-linecap="round"/>
<text id="t53" transform="translate(996.51 1012.4) scale(1 1.0680)" font-size="36.3" text-anchor="middle">132</text>
<line x1="1152.97" y1="970.1" x2="1152.97" y2="978.35" stroke="#000" stroke-width="3.9" stroke-linecap="round"/>
<text id="t54" transform="translate(1152.57 1012.4) scale(1 1.0680)" font-size="36.3" text-anchor="middle">128</text>
<line x1="762.83" y1="970.1" x2="762.83" y2="974.35" stroke="#000" stroke-width="3.9" stroke-linecap="round"/>
<line x1="918.89" y1="970.1" x2="918.89" y2="974.35" stroke="#000" stroke-width="3.9" stroke-linecap="round"/>
<line x1="1074.94" y1="970.1" x2="1074.94" y2="974.35" stroke="#000" stroke-width="3.9" stroke-linecap="round"/>
<line x1="1231" y1="970.1" x2="1231" y2="974.35" stroke="#000" stroke-width="3.9" stroke-linecap="round"/>
<text id="t55" transform="translate(956.9 1063.4) scale(1 1.0000)" font-size="46.35" text-anchor="middle">Binding energy (eV)</text>
<text id="t56" transform="translate(636.3 578.8) scale(1 1.0400)" font-size="46" text-anchor="start">E</text>
<text id="t57" transform="translate(700.6 619) scale(1 1.0300)" font-size="38.5" text-anchor="start">P 2p</text>
</g>
<g id="panelF">
<path d="M1326.39 944.24 L1333.07 941.39 L1339.18 943.53 L1345.58 943.53 L1351.55 944.24 L1357.66 942.82 L1363.77 942.11 L1369.74 942.53 L1375.85 943.1 L1381.82 942.53 L1387.93 942.82 L1393.89 943.24 L1400.01 927.89 L1405.97 929.32 L1412.08 898.05 L1418.05 866.51 L1424.16 871.05 L1430.13 862.53 L1436.24 870.34 L1442.21 888.82 L1448.32 889.24 L1454.57 897.34 L1460.68 918.66 L1466.79 940.4 L1472.76 940.68 L1478.87 943.53 L1484.84 943.53 L1490.95 942.53 L1496.92 943.81 L1503.03 943.24 L1509 943.53 L1515.11 941.39 L1521.08 933.86 L1527.19 933.58 L1533.16 936.42 L1539.27 931.45 L1545.24 935 L1551.35 939.55 L1557.6 931.45 L1563.71 928.32 L1569.68 887.39 L1575.79 891.66 L1581.9 878.87 L1587.87 865.37 L1594 851 L1600.2 838.5 L1606.3 837 L1611.87 775.05 L1617.98 765.11 L1624.23 733.84 L1630.34 727.45 L1636.31 673.02 L1642.42 671.03 L1648.53 656 L1654.5 649.61 L1660.61 626.87 L1666.58 619.05 L1672.69 610.53 L1678.8 615.5 L1685.05 629 L1691.02 676.61 L1697.13 677.03 L1703.24 694.65 L1709.21 726.03 L1715.32 737.39 L1721.29 783.29 L1727.68 782.87 L1733.61 806.39 L1739.57 832.68 L1745.68 873.18 L1751.79 869.92 L1757.76 895.49 L1763.87 896.63 L1769.84 917.95 L1775.95 923.63 L1781.92 921.22 L1788.03 935 L1794 929.74 L1800.11 939.97 L1806.08 939.55 L1812.19 936.42 L1818.16 938.55 L1824.27 942.82 L1830.24 943.53 L1836.35 943.24 L1842.32 942.39 L1848.43 943.24 L1854.39 942.53 L1860.51 943.53 L1866.9 937.13 L1870.74 938.55" fill="none" stroke="#000" stroke-width="1.55" stroke-linejoin="round" stroke-linecap="butt"/>
<path d="M1370 944.82 L1371.5 944.71 L1373 944.56 L1374.5 944.38 L1376 944.14 L1377.5 943.86 L1379 943.5 L1380.5 943.07 L1382 942.54 L1383.5 941.9 L1385 941.15 L1386.5 940.25 L1388 939.19 L1389.5 937.96 L1391 936.54 L1392.5 934.91 L1394 933.05 L1395.5 930.96 L1397 928.63 L1398.5 926.04 L1400 923.2 L1401.5 920.11 L1403 916.79 L1404.5 913.24 L1406 909.5 L1407.5 905.6 L1409 901.57 L1410.5 897.46 L1412 893.32 L1413.5 889.2 L1415 885.17 L1416.5 881.3 L1418 877.64 L1419.5 874.26 L1421 871.22 L1422.5 868.58 L1424 866.39 L1425.5 864.69 L1427 863.52 L1428.5 862.9 L1430 862.85 L1431.5 863.35 L1433 864.42 L1434.5 866.01 L1436 868.11 L1437.5 870.66 L1439 873.62 L1440.5 876.94 L1442 880.55 L1443.5 884.38 L1445 888.39 L1446.5 892.49 L1448 896.63 L1449.5 900.75 L1451 904.8 L1452.5 908.74 L1454 912.51 L1455.5 916.1 L1457 919.47 L1458.5 922.6 L1460 925.49 L1461.5 928.13 L1463 930.52 L1464.5 932.66 L1466 934.56 L1467.5 936.23 L1469 937.69 L1470.5 938.96 L1472 940.05 L1473.5 940.98 L1475 941.76 L1476.5 942.42 L1478 942.97 L1479.5 943.42 L1481 943.79 L1482.5 944.09 L1484 944.33 L1485.5 944.53 L1487 944.68 L1488.5 944.8 L1490 944.9 L1491.5 944.97 L1493 945.03 L1494.5 945.07" fill="none" stroke="#ff0000" stroke-width="1.65" stroke-linejoin="round" stroke-linecap="butt"/>
<path d="M1500 944.67 L1501.5 944.61 L1503 944.54 L1504.5 944.47 L1506 944.38 L1507.5 944.29 L1509 944.19 L1510.5 944.07 L1512 943.95 L1513.5 943.81 L1515 943.66 L1516.5 943.49 L1518 943.31 L1519.5 943.11 L1521 942.9 L1522.5 942.66 L1524 942.4 L1525.5 942.11 L1527 941.81 L1528.5 941.47 L1530 941.11 L1531.5 940.71 L1533 940.28 L1534.5 939.82 L1536 939.31 L1537.5 938.77 L1539 938.18 L1540.5 937.55 L1542 936.86 L1543.5 936.13 L1545 935.34 L1546.5 934.49 L1548 933.58 L1549.5 932.6 L1551 931.56 L1552.5 930.44 L1554 929.25 L1555.5 927.98 L1557 926.63 L1558.5 925.19 L1560 923.66 L1561.5 922.03 L1563 920.31 L1564.5 918.49 L1566 916.56 L1567.5 914.52 L1569 912.36 L1570.5 910.09 L1572 907.7 L1573.5 905.19 L1575 902.55 L1576.5 899.78 L1578 896.88 L1579.5 893.84 L1581 890.66 L1582.5 887.35 L1584 883.89 L1585.5 880.3 L1587 876.55 L1588.5 872.67 L1590 868.64 L1591.5 864.46 L1593 860.14 L1594.5 855.67 L1596 851.07 L1597.5 846.32 L1599 841.44 L1600.5 836.42 L1602 831.27 L1603.5 825.99 L1605 820.59 L1606.5 815.08 L1608 809.45 L1609.5 803.72 L1611 797.9 L1612.5 791.98 L1614 785.98 L1615.5 779.91 L1617 773.77 L1618.5 767.58 L1620 761.35 L1621.5 755.09 L1623 748.8 L1624.5 742.51 L1626 736.22 L1627.5 729.95 L1629 723.7 L1630.5 717.5 L1632 711.35 L1633.5 705.27 L1635 699.28 L1636.5 693.38 L1638 687.59 L1639.5 681.93 L1641 676.41 L1642.5 671.04 L1644 665.84 L1645.5 660.82 L1647 656 L1648.5 651.37 L1650 646.97 L1651.5 642.8 L1653 638.87 L1654.5 635.19 L1656 631.78 L1657.5 628.64 L1659 625.78 L1660.5 623.21 L1662 620.94 L1663.5 618.98 L1665 617.32 L1666.5 615.98 L1668 614.95 L1669.5 614.25 L1671 613.87 L1672.5 613.82 L1674 614.09 L1675.5 614.68 L1677 615.6 L1678.5 616.84 L1680 618.39 L1681.5 620.25 L1683 622.42 L1684.5 624.89 L1686 627.66 L1687.5 630.7 L1689 634.03 L1690.5 637.62 L1692 641.46 L1693.5 645.55 L1695 649.88 L1696.5 654.43 L1698 659.19 L1699.5 664.15 L1701 669.29 L1702.5 674.61 L1704 680.08 L1705.5 685.69 L1707 691.44 L1708.5 697.3 L1710 703.26 L1711.5 709.32 L1713 715.44 L1714.5 721.63 L1716 727.86 L1717.5 734.13 L1719 740.41 L1720.5 746.71 L1722 752.99 L1723.5 759.27 L1725 765.51 L1726.5 771.71 L1728 777.87 L1729.5 783.96 L1731 789.99 L1732.5 795.93 L1734 801.79 L1735.5 807.55 L1737 813.22 L1738.5 818.77 L1740 824.21 L1741.5 829.52 L1743 834.72 L1744.5 839.78 L1746 844.71 L1747.5 849.5 L1749 854.15 L1750.5 858.67 L1752 863.03 L1753.5 867.26 L1755 871.34 L1756.5 875.27 L1758 879.06 L1759.5 882.71 L1761 886.21 L1762.5 889.58 L1764 892.8 L1765.5 895.88 L1767 898.83 L1768.5 901.64 L1770 904.32 L1771.5 906.88 L1773 909.31 L1774.5 911.62 L1776 913.81 L1777.5 915.89 L1779 917.86 L1780.5 919.71 L1782 921.47 L1783.5 923.13 L1785 924.69 L1786.5 926.16 L1788 927.54 L1789.5 928.84 L1791 930.06 L1792.5 931.2 L1794 932.26 L1795.5 933.26 L1797 934.19 L1798.5 935.06 L1800 935.87 L1801.5 936.62 L1803 937.32 L1804.5 937.97 L1806 938.58 L1807.5 939.13 L1809 939.65 L1810.5 940.13 L1812 940.57 L1813.5 940.98 L1815 941.35 L1816.5 941.7 L1818 942.01 L1819.5 942.31 L1821 942.57 L1822.5 942.82 L1824 943.04 L1825.5 943.25 L1827 943.43 L1828.5 943.61 L1830 943.76 L1831.5 943.9 L1833 944.03 L1834.5 944.15 L1836 944.26 L1837.5 944.35 L1839 944.44 L1840.5 944.52 L1842 944.59 L1843.5 944.65 L1845 944.71 L1846.5 944.76 L1848 944.81 L1849.5 944.85 L1851 944.89 L1852.5 944.93 L1854 944.96 L1855.5 944.98 L1857 945.01 L1858.5 945.03 L1860 945.05" fill="none" stroke="#00ff00" stroke-width="1.65" stroke-linejoin="round" stroke-linecap="butt"/>
<path d="M1325.8 945.2 L1871.8 945.2" fill="none" stroke="#0000ff" stroke-width="1.6" stroke-linejoin="round" stroke-linecap="butt"/>
<line x1="1429.7" y1="829.1" x2="1429.7" y2="970" stroke="#1a1a1a" stroke-width="1.5" stroke-dasharray="5.2 4.7"/>
<line x1="1673.7" y1="591.3" x2="1673.7" y2="970" stroke="#1a1a1a" stroke-width="1.5" stroke-dasharray="5.2 4.7"/>
<text id="t58" transform="translate(1478.2 836.2) scale(1 1.0870)" font-size="29.8" text-anchor="middle">688.3</text>
<text id="t59" transform="translate(1618.55 614.65) scale(1 1.0850)" font-size="29.8" text-anchor="middle">684.4</text>
<path d="M1325.8 570 L1871.8 570 L1871.8 972.3 L1325.8 972.3 Z" fill="none" stroke="#000" stroke-width="3.4" stroke-linejoin="round"/>
<line x1="1325.8" y1="972.3" x2="1325.8" y2="980" stroke="#000" stroke-width="3.4" stroke-linecap="round"/>
<text id="t60" transform="translate(1325.8 1011.1) scale(1 1.0600)" font-size="32.3" text-anchor="middle">690</text>
<line x1="1447.13" y1="972.3" x2="1447.13" y2="980" stroke="#000" stroke-width="3.4" stroke-linecap="round"/>
<text id="t61" transform="translate(1447.13 1011.1) scale(1 1.0600)" font-size="32.3" text-anchor="middle">688</text>
<line x1="1568.47" y1="972.3" x2="1568.47" y2="980" stroke="#000" stroke-width="3.4" stroke-linecap="round"/>
<text id="t62" transform="translate(1568.47 1011.1) scale(1 1.0600)" font-size="32.3" text-anchor="middle">686</text>
<line x1="1689.8" y1="972.3" x2="1689.8" y2="980" stroke="#000" stroke-width="3.4" stroke-linecap="round"/>
<text id="t63" transform="translate(1689.8 1011.1) scale(1 1.0600)" font-size="32.3" text-anchor="middle">684</text>
<line x1="1811.13" y1="972.3" x2="1811.13" y2="980" stroke="#000" stroke-width="3.4" stroke-linecap="round"/>
<text id="t64" transform="translate(1811.13 1011.1) scale(1 1.0600)" font-size="32.3" text-anchor="middle">682</text>
<line x1="1386.47" y1="972.3" x2="1386.47" y2="976.4" stroke="#000" stroke-width="3.4" stroke-linecap="round"/>
<line x1="1507.8" y1="972.3" x2="1507.8" y2="976.4" stroke="#000" stroke-width="3.4" stroke-linecap="round"/>
<line x1="1629.13" y1="972.3" x2="1629.13" y2="976.4" stroke="#000" stroke-width="3.4" stroke-linecap="round"/>
<line x1="1750.47" y1="972.3" x2="1750.47" y2="976.4" stroke="#000" stroke-width="3.4" stroke-linecap="round"/>
<line x1="1871.8" y1="972.3" x2="1871.8" y2="976.4" stroke="#000" stroke-width="3.4" stroke-linecap="round"/>
<text id="t65" transform="translate(1624.6 1063.4) scale(1 1.0000)" font-size="46.35" text-anchor="middle">Binding energy (eV)</text>
<text id="t66" transform="translate(1278.2 578.8) scale(1 1.0400)" font-size="46" text-anchor="start">F</text>
<text id="t67" transform="translate(1347.2 619) scale(1 1.0300)" font-size="38.4" text-anchor="start">F 1s</text>
</g>
</svg></body></html>
